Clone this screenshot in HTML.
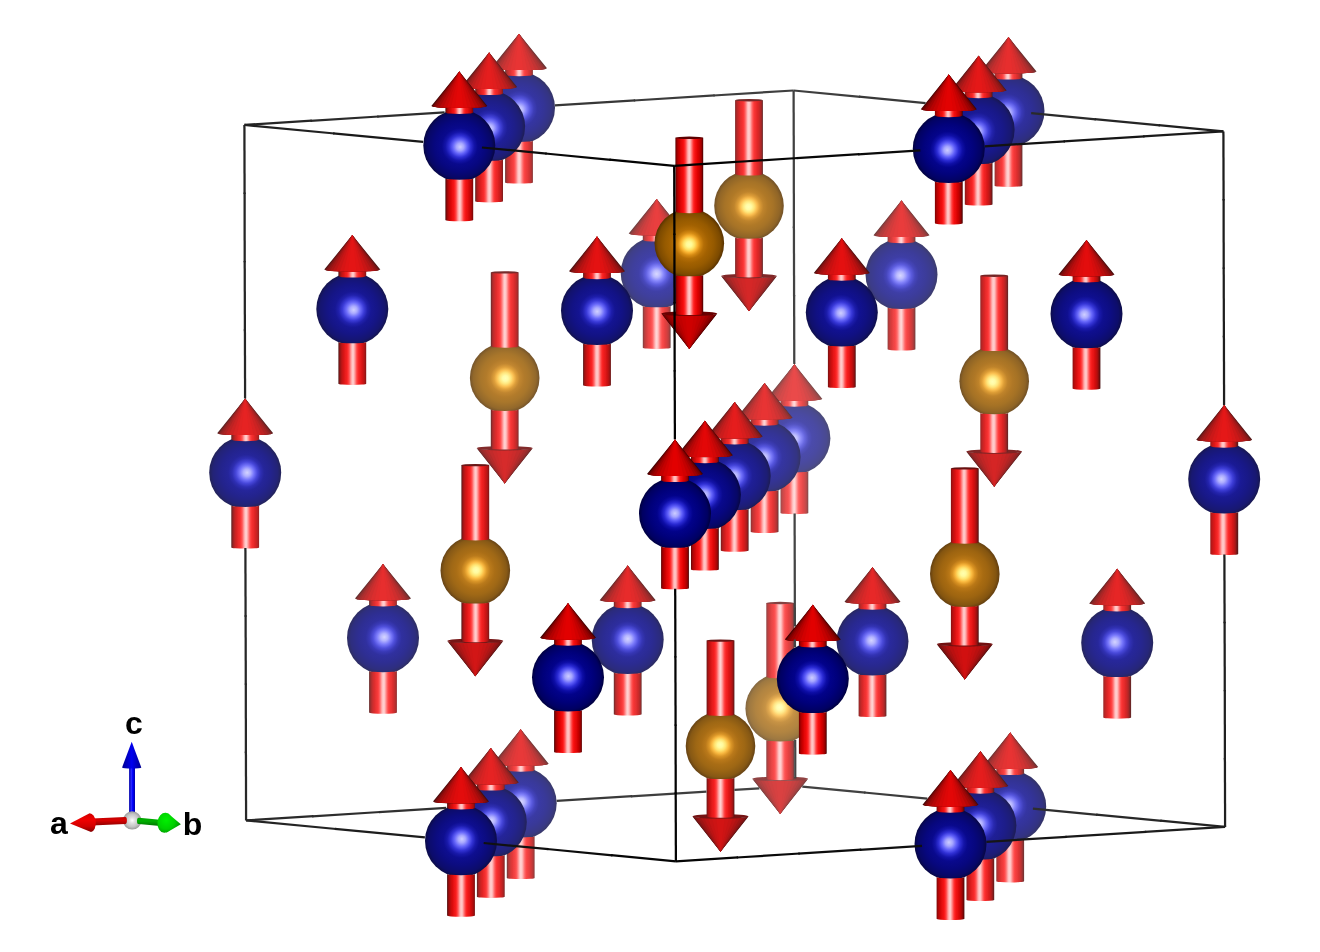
<!DOCTYPE html>
<html><head><meta charset="utf-8"><title>Crystal structure</title>
<style>html,body{margin:0;padding:0;background:#fff}#w{width:1320px;height:952px;will-change:transform}svg{display:block}text{font-family:"Liberation Sans",sans-serif;font-weight:bold;fill:#000}</style>
</head><body>
<div id="w">
<svg width="1320" height="952" viewBox="0 0 1320 952">
<defs><linearGradient id="l0" gradientUnits="userSpaceOnUse" x1="780.5" y1="0" x2="808.3" y2="0"><stop offset="0.00" stop-color="#924a4a"/><stop offset="0.05" stop-color="#b94a4a"/><stop offset="0.10" stop-color="#cf4a4a"/><stop offset="0.15" stop-color="#de4a4a"/><stop offset="0.20" stop-color="#ea5050"/><stop offset="0.25" stop-color="#f35151"/><stop offset="0.30" stop-color="#fc5a5a"/><stop offset="0.35" stop-color="#ff7373"/><stop offset="0.40" stop-color="#ff9f9f"/><stop offset="0.45" stop-color="#ffcccc"/><stop offset="0.50" stop-color="#ffd9d9"/><stop offset="0.55" stop-color="#ffbbbb"/><stop offset="0.60" stop-color="#ff8b8b"/><stop offset="0.65" stop-color="#ff6565"/><stop offset="0.70" stop-color="#f85555"/><stop offset="0.75" stop-color="#f05050"/><stop offset="0.80" stop-color="#e54a4a"/><stop offset="0.85" stop-color="#d84a4a"/><stop offset="0.90" stop-color="#c74a4a"/><stop offset="0.95" stop-color="#ad4a4a"/><stop offset="1.00" stop-color="#754a4a"/></linearGradient><radialGradient id="s0" gradientUnits="userSpaceOnUse" cx="794.4" cy="438.2" fx="793.7" fy="438.5" r="36.0"><stop offset="0.00" stop-color="#dcdcff"/><stop offset="0.10" stop-color="#bfbfff"/><stop offset="0.20" stop-color="#8d8dfb"/><stop offset="0.30" stop-color="#6868e0"/><stop offset="0.40" stop-color="#5353c0"/><stop offset="0.50" stop-color="#4b4bac"/><stop offset="0.70" stop-color="#4a4aa1"/><stop offset="0.90" stop-color="#4a4a90"/><stop offset="1.00" stop-color="#4a4a76"/></radialGradient><linearGradient id="l1" gradientUnits="userSpaceOnUse" x1="766.3" y1="0" x2="794.1" y2="0"><stop offset="0.00" stop-color="#8b4141"/><stop offset="0.05" stop-color="#b54141"/><stop offset="0.10" stop-color="#cc4141"/><stop offset="0.15" stop-color="#dc4141"/><stop offset="0.20" stop-color="#e94747"/><stop offset="0.25" stop-color="#f34848"/><stop offset="0.30" stop-color="#fc5151"/><stop offset="0.35" stop-color="#ff6b6b"/><stop offset="0.40" stop-color="#ff9a9a"/><stop offset="0.45" stop-color="#ffc9c9"/><stop offset="0.50" stop-color="#ffd7d7"/><stop offset="0.55" stop-color="#ffb9b9"/><stop offset="0.60" stop-color="#ff8686"/><stop offset="0.65" stop-color="#ff5e5e"/><stop offset="0.70" stop-color="#f84c4c"/><stop offset="0.75" stop-color="#ef4747"/><stop offset="0.80" stop-color="#e44141"/><stop offset="0.85" stop-color="#d74141"/><stop offset="0.90" stop-color="#c44141"/><stop offset="0.95" stop-color="#a94141"/><stop offset="1.00" stop-color="#6d4141"/></linearGradient><radialGradient id="s1" gradientUnits="userSpaceOnUse" cx="780.2" cy="708.5" fx="779.5" fy="707.3" r="34.8"><stop offset="0.00" stop-color="#ffffc0"/><stop offset="0.08" stop-color="#fffbb1"/><stop offset="0.16" stop-color="#ffe98b"/><stop offset="0.24" stop-color="#fbc766"/><stop offset="0.32" stop-color="#e1a950"/><stop offset="0.42" stop-color="#c79345"/><stop offset="0.55" stop-color="#ba8941"/><stop offset="0.70" stop-color="#b18441"/><stop offset="0.90" stop-color="#9d7841"/><stop offset="1.00" stop-color="#826641"/></radialGradient><linearGradient id="l2" gradientUnits="userSpaceOnUse" x1="642.8" y1="0" x2="670.6" y2="0"><stop offset="0.00" stop-color="#773f3f"/><stop offset="0.05" stop-color="#af3f3f"/><stop offset="0.10" stop-color="#c83f3f"/><stop offset="0.15" stop-color="#da3f3f"/><stop offset="0.20" stop-color="#e74545"/><stop offset="0.25" stop-color="#f14646"/><stop offset="0.30" stop-color="#fa4d4d"/><stop offset="0.35" stop-color="#ff6363"/><stop offset="0.40" stop-color="#ff9090"/><stop offset="0.45" stop-color="#ffc2c2"/><stop offset="0.50" stop-color="#ffd8d8"/><stop offset="0.55" stop-color="#ffc0c0"/><stop offset="0.60" stop-color="#ff8d8d"/><stop offset="0.65" stop-color="#ff6262"/><stop offset="0.70" stop-color="#fa4c4c"/><stop offset="0.75" stop-color="#f14646"/><stop offset="0.80" stop-color="#e63f3f"/><stop offset="0.85" stop-color="#d93f3f"/><stop offset="0.90" stop-color="#c73f3f"/><stop offset="0.95" stop-color="#ae3f3f"/><stop offset="1.00" stop-color="#6c3f3f"/></linearGradient><radialGradient id="s2" gradientUnits="userSpaceOnUse" cx="656.7" cy="273.0" fx="656.6" fy="274.0" r="36.0"><stop offset="0.00" stop-color="#d9d9ff"/><stop offset="0.10" stop-color="#bbbbff"/><stop offset="0.20" stop-color="#8686fb"/><stop offset="0.30" stop-color="#5f5fdf"/><stop offset="0.40" stop-color="#4949bc"/><stop offset="0.50" stop-color="#4040a7"/><stop offset="0.70" stop-color="#3f3f9b"/><stop offset="0.90" stop-color="#3f3f89"/><stop offset="1.00" stop-color="#3f3f6e"/></radialGradient><linearGradient id="l3" gradientUnits="userSpaceOnUse" x1="887.6" y1="0" x2="915.4" y2="0"><stop offset="0.00" stop-color="#933c3c"/><stop offset="0.05" stop-color="#b83c3c"/><stop offset="0.10" stop-color="#ce3c3c"/><stop offset="0.15" stop-color="#de3c3c"/><stop offset="0.20" stop-color="#ea4343"/><stop offset="0.25" stop-color="#f44545"/><stop offset="0.30" stop-color="#fd5050"/><stop offset="0.35" stop-color="#ff6e6e"/><stop offset="0.40" stop-color="#ffa0a0"/><stop offset="0.45" stop-color="#ffcdcd"/><stop offset="0.50" stop-color="#ffd4d4"/><stop offset="0.55" stop-color="#ffafaf"/><stop offset="0.60" stop-color="#ff7a7a"/><stop offset="0.65" stop-color="#ff5656"/><stop offset="0.70" stop-color="#f64646"/><stop offset="0.75" stop-color="#ed4343"/><stop offset="0.80" stop-color="#e23c3c"/><stop offset="0.85" stop-color="#d33c3c"/><stop offset="0.90" stop-color="#bf3c3c"/><stop offset="0.95" stop-color="#a03c3c"/><stop offset="1.00" stop-color="#6a3c3c"/></linearGradient><radialGradient id="s3" gradientUnits="userSpaceOnUse" cx="901.5" cy="274.6" fx="900.2" fy="275.6" r="36.0"><stop offset="0.00" stop-color="#d9d9ff"/><stop offset="0.10" stop-color="#babaff"/><stop offset="0.20" stop-color="#8585fb"/><stop offset="0.30" stop-color="#5c5cde"/><stop offset="0.40" stop-color="#4646bb"/><stop offset="0.50" stop-color="#3e3ea6"/><stop offset="0.70" stop-color="#3c3c99"/><stop offset="0.90" stop-color="#3c3c87"/><stop offset="1.00" stop-color="#3c3c6c"/></radialGradient><linearGradient id="l4" gradientUnits="userSpaceOnUse" x1="506.8" y1="0" x2="534.6" y2="0"><stop offset="0.00" stop-color="#683939"/><stop offset="0.05" stop-color="#a73939"/><stop offset="0.10" stop-color="#c33939"/><stop offset="0.15" stop-color="#d63939"/><stop offset="0.20" stop-color="#e43939"/><stop offset="0.25" stop-color="#ef4040"/><stop offset="0.30" stop-color="#f84545"/><stop offset="0.35" stop-color="#ff5858"/><stop offset="0.40" stop-color="#ff8282"/><stop offset="0.45" stop-color="#ffb7b7"/><stop offset="0.50" stop-color="#ffd6d6"/><stop offset="0.55" stop-color="#ffc6c6"/><stop offset="0.60" stop-color="#ff9494"/><stop offset="0.65" stop-color="#ff6464"/><stop offset="0.70" stop-color="#fb4949"/><stop offset="0.75" stop-color="#f24141"/><stop offset="0.80" stop-color="#e83f3f"/><stop offset="0.85" stop-color="#db3939"/><stop offset="0.90" stop-color="#ca3939"/><stop offset="0.95" stop-color="#b13939"/><stop offset="1.00" stop-color="#843939"/></linearGradient><radialGradient id="s4" gradientUnits="userSpaceOnUse" cx="520.7" cy="803.2" fx="521.3" fy="801.6" r="36.0"><stop offset="0.00" stop-color="#d8d8ff"/><stop offset="0.10" stop-color="#b9b9ff"/><stop offset="0.20" stop-color="#8383fb"/><stop offset="0.30" stop-color="#5a5ade"/><stop offset="0.40" stop-color="#4343ba"/><stop offset="0.50" stop-color="#3a3aa4"/><stop offset="0.70" stop-color="#393998"/><stop offset="0.90" stop-color="#393985"/><stop offset="1.00" stop-color="#393969"/></radialGradient><linearGradient id="l5" gradientUnits="userSpaceOnUse" x1="505.1" y1="0" x2="532.9" y2="0"><stop offset="0.00" stop-color="#643434"/><stop offset="0.05" stop-color="#a43434"/><stop offset="0.10" stop-color="#c13434"/><stop offset="0.15" stop-color="#d43434"/><stop offset="0.20" stop-color="#e33434"/><stop offset="0.25" stop-color="#ee3b3b"/><stop offset="0.30" stop-color="#f84040"/><stop offset="0.35" stop-color="#ff5454"/><stop offset="0.40" stop-color="#ff7f7f"/><stop offset="0.45" stop-color="#ffb5b5"/><stop offset="0.50" stop-color="#ffd5d5"/><stop offset="0.55" stop-color="#ffc4c4"/><stop offset="0.60" stop-color="#ff9191"/><stop offset="0.65" stop-color="#ff6060"/><stop offset="0.70" stop-color="#fb4545"/><stop offset="0.75" stop-color="#f23c3c"/><stop offset="0.80" stop-color="#e73a3a"/><stop offset="0.85" stop-color="#da3434"/><stop offset="0.90" stop-color="#c83434"/><stop offset="0.95" stop-color="#af3434"/><stop offset="1.00" stop-color="#813434"/></linearGradient><radialGradient id="s5" gradientUnits="userSpaceOnUse" cx="519.0" cy="107.7" fx="519.6" fy="109.6" r="36.0"><stop offset="0.00" stop-color="#d7d7ff"/><stop offset="0.10" stop-color="#b7b7ff"/><stop offset="0.20" stop-color="#8080fb"/><stop offset="0.30" stop-color="#5555dd"/><stop offset="0.40" stop-color="#3e3eb8"/><stop offset="0.50" stop-color="#3535a2"/><stop offset="0.70" stop-color="#343495"/><stop offset="0.90" stop-color="#343482"/><stop offset="1.00" stop-color="#343465"/></radialGradient><linearGradient id="l6" gradientUnits="userSpaceOnUse" x1="750.7" y1="0" x2="778.5" y2="0"><stop offset="0.00" stop-color="#813434"/><stop offset="0.05" stop-color="#b03434"/><stop offset="0.10" stop-color="#c83434"/><stop offset="0.15" stop-color="#da3434"/><stop offset="0.20" stop-color="#e73a3a"/><stop offset="0.25" stop-color="#f23c3c"/><stop offset="0.30" stop-color="#fb4545"/><stop offset="0.35" stop-color="#ff6060"/><stop offset="0.40" stop-color="#ff9191"/><stop offset="0.45" stop-color="#ffc4c4"/><stop offset="0.50" stop-color="#ffd5d5"/><stop offset="0.55" stop-color="#ffb5b5"/><stop offset="0.60" stop-color="#ff7e7e"/><stop offset="0.65" stop-color="#ff5454"/><stop offset="0.70" stop-color="#f84040"/><stop offset="0.75" stop-color="#ee3b3b"/><stop offset="0.80" stop-color="#e33434"/><stop offset="0.85" stop-color="#d43434"/><stop offset="0.90" stop-color="#c13434"/><stop offset="0.95" stop-color="#a43434"/><stop offset="1.00" stop-color="#643434"/></linearGradient><radialGradient id="s6" gradientUnits="userSpaceOnUse" cx="764.6" cy="457.1" fx="764.0" fy="457.2" r="36.0"><stop offset="0.00" stop-color="#d7d7ff"/><stop offset="0.10" stop-color="#b7b7ff"/><stop offset="0.20" stop-color="#7f7ffb"/><stop offset="0.30" stop-color="#5555dd"/><stop offset="0.40" stop-color="#3e3eb8"/><stop offset="0.50" stop-color="#3535a2"/><stop offset="0.70" stop-color="#343495"/><stop offset="0.90" stop-color="#343482"/><stop offset="1.00" stop-color="#343465"/></radialGradient><linearGradient id="l7" gradientUnits="userSpaceOnUse" x1="996.3" y1="0" x2="1024.1" y2="0"><stop offset="0.00" stop-color="#973333"/><stop offset="0.05" stop-color="#b93333"/><stop offset="0.10" stop-color="#cf3333"/><stop offset="0.15" stop-color="#df3333"/><stop offset="0.20" stop-color="#eb3a3a"/><stop offset="0.25" stop-color="#f53d3d"/><stop offset="0.30" stop-color="#ff4b4b"/><stop offset="0.35" stop-color="#ff6e6e"/><stop offset="0.40" stop-color="#ffa4a4"/><stop offset="0.45" stop-color="#ffcfcf"/><stop offset="0.50" stop-color="#ffcfcf"/><stop offset="0.55" stop-color="#ffa3a3"/><stop offset="0.60" stop-color="#ff6d6d"/><stop offset="0.65" stop-color="#fe4a4a"/><stop offset="0.70" stop-color="#f53d3d"/><stop offset="0.75" stop-color="#eb3a3a"/><stop offset="0.80" stop-color="#de3333"/><stop offset="0.85" stop-color="#ce3333"/><stop offset="0.90" stop-color="#b83333"/><stop offset="0.95" stop-color="#953333"/><stop offset="1.00" stop-color="#633333"/></linearGradient><radialGradient id="s7" gradientUnits="userSpaceOnUse" cx="1010.2" cy="806.5" fx="1008.3" fy="804.8" r="36.0"><stop offset="0.00" stop-color="#d7d7ff"/><stop offset="0.10" stop-color="#b7b7ff"/><stop offset="0.20" stop-color="#7f7ffb"/><stop offset="0.30" stop-color="#5555dd"/><stop offset="0.40" stop-color="#3e3eb8"/><stop offset="0.50" stop-color="#3535a2"/><stop offset="0.70" stop-color="#333395"/><stop offset="0.90" stop-color="#333382"/><stop offset="1.00" stop-color="#333365"/></radialGradient><linearGradient id="l8" gradientUnits="userSpaceOnUse" x1="994.6" y1="0" x2="1022.4" y2="0"><stop offset="0.00" stop-color="#942e2e"/><stop offset="0.05" stop-color="#b72e2e"/><stop offset="0.10" stop-color="#ce2e2e"/><stop offset="0.15" stop-color="#de2e2e"/><stop offset="0.20" stop-color="#ea3535"/><stop offset="0.25" stop-color="#f53838"/><stop offset="0.30" stop-color="#ff4747"/><stop offset="0.35" stop-color="#ff6b6b"/><stop offset="0.40" stop-color="#ffa2a2"/><stop offset="0.45" stop-color="#ffcece"/><stop offset="0.50" stop-color="#ffcece"/><stop offset="0.55" stop-color="#ffa1a1"/><stop offset="0.60" stop-color="#ff6a6a"/><stop offset="0.65" stop-color="#fe4646"/><stop offset="0.70" stop-color="#f43838"/><stop offset="0.75" stop-color="#ea3535"/><stop offset="0.80" stop-color="#de2e2e"/><stop offset="0.85" stop-color="#cd2e2e"/><stop offset="0.90" stop-color="#b72e2e"/><stop offset="0.95" stop-color="#932e2e"/><stop offset="1.00" stop-color="#5f2e2e"/></linearGradient><radialGradient id="s8" gradientUnits="userSpaceOnUse" cx="1008.5" cy="111.0" fx="1006.7" fy="112.8" r="36.0"><stop offset="0.00" stop-color="#d6d6ff"/><stop offset="0.10" stop-color="#b5b5ff"/><stop offset="0.20" stop-color="#7c7cfb"/><stop offset="0.30" stop-color="#5151dc"/><stop offset="0.40" stop-color="#3939b6"/><stop offset="0.50" stop-color="#30309f"/><stop offset="0.70" stop-color="#2e2e92"/><stop offset="0.90" stop-color="#2e2e7f"/><stop offset="1.00" stop-color="#2e2e61"/></radialGradient><linearGradient id="l9" gradientUnits="userSpaceOnUse" x1="369.1" y1="0" x2="396.9" y2="0"><stop offset="0.00" stop-color="#5f2e2e"/><stop offset="0.05" stop-color="#9a2e2e"/><stop offset="0.10" stop-color="#bb2e2e"/><stop offset="0.15" stop-color="#d02e2e"/><stop offset="0.20" stop-color="#e02e2e"/><stop offset="0.25" stop-color="#ec3535"/><stop offset="0.30" stop-color="#f63939"/><stop offset="0.35" stop-color="#ff4949"/><stop offset="0.40" stop-color="#ff7171"/><stop offset="0.45" stop-color="#ffa9a9"/><stop offset="0.50" stop-color="#ffd1d1"/><stop offset="0.55" stop-color="#ffc9c9"/><stop offset="0.60" stop-color="#ff9999"/><stop offset="0.65" stop-color="#ff6363"/><stop offset="0.70" stop-color="#fd4343"/><stop offset="0.75" stop-color="#f33737"/><stop offset="0.80" stop-color="#e93535"/><stop offset="0.85" stop-color="#dc2e2e"/><stop offset="0.90" stop-color="#ca2e2e"/><stop offset="0.95" stop-color="#b32e2e"/><stop offset="1.00" stop-color="#8b2e2e"/></linearGradient><radialGradient id="s9" gradientUnits="userSpaceOnUse" cx="383.0" cy="637.9" fx="384.3" fy="637.1" r="36.0"><stop offset="0.00" stop-color="#d6d6ff"/><stop offset="0.10" stop-color="#b5b5ff"/><stop offset="0.20" stop-color="#7c7cfb"/><stop offset="0.30" stop-color="#5050dc"/><stop offset="0.40" stop-color="#3939b6"/><stop offset="0.50" stop-color="#30309f"/><stop offset="0.70" stop-color="#2e2e92"/><stop offset="0.90" stop-color="#2e2e7e"/><stop offset="1.00" stop-color="#2e2e61"/></radialGradient><linearGradient id="l10" gradientUnits="userSpaceOnUse" x1="613.8" y1="0" x2="641.6" y2="0"><stop offset="0.00" stop-color="#5d2b2b"/><stop offset="0.05" stop-color="#a62b2b"/><stop offset="0.10" stop-color="#c22b2b"/><stop offset="0.15" stop-color="#d52b2b"/><stop offset="0.20" stop-color="#e42b2b"/><stop offset="0.25" stop-color="#ef3333"/><stop offset="0.30" stop-color="#f93a3a"/><stop offset="0.35" stop-color="#ff5252"/><stop offset="0.40" stop-color="#ff8282"/><stop offset="0.45" stop-color="#ffbaba"/><stop offset="0.50" stop-color="#ffd4d4"/><stop offset="0.55" stop-color="#ffbbbb"/><stop offset="0.60" stop-color="#ff8484"/><stop offset="0.65" stop-color="#ff5353"/><stop offset="0.70" stop-color="#f93a3a"/><stop offset="0.75" stop-color="#ef3333"/><stop offset="0.80" stop-color="#e43232"/><stop offset="0.85" stop-color="#d62b2b"/><stop offset="0.90" stop-color="#c32b2b"/><stop offset="0.95" stop-color="#a72b2b"/><stop offset="1.00" stop-color="#672b2b"/></linearGradient><radialGradient id="s10" gradientUnits="userSpaceOnUse" cx="627.7" cy="639.6" fx="627.8" fy="638.8" r="36.0"><stop offset="0.00" stop-color="#d5d5ff"/><stop offset="0.10" stop-color="#b4b4ff"/><stop offset="0.20" stop-color="#7a7afb"/><stop offset="0.30" stop-color="#4e4edb"/><stop offset="0.40" stop-color="#3636b5"/><stop offset="0.50" stop-color="#2d2d9e"/><stop offset="0.70" stop-color="#2b2b91"/><stop offset="0.90" stop-color="#2b2b7d"/><stop offset="1.00" stop-color="#2b2b5f"/></radialGradient><linearGradient id="l11" gradientUnits="userSpaceOnUse" x1="490.8" y1="0" x2="518.6" y2="0"><stop offset="0.00" stop-color="#5d2b2b"/><stop offset="0.05" stop-color="#9f2b2b"/><stop offset="0.10" stop-color="#be2b2b"/><stop offset="0.15" stop-color="#d22b2b"/><stop offset="0.20" stop-color="#e12b2b"/><stop offset="0.25" stop-color="#ed3232"/><stop offset="0.30" stop-color="#f73737"/><stop offset="0.35" stop-color="#ff4c4c"/><stop offset="0.40" stop-color="#ff7878"/><stop offset="0.45" stop-color="#ffb1b1"/><stop offset="0.50" stop-color="#ffd3d3"/><stop offset="0.55" stop-color="#ffc2c2"/><stop offset="0.60" stop-color="#ff8d8d"/><stop offset="0.65" stop-color="#ff5959"/><stop offset="0.70" stop-color="#fb3d3d"/><stop offset="0.75" stop-color="#f13333"/><stop offset="0.80" stop-color="#e63131"/><stop offset="0.85" stop-color="#d82b2b"/><stop offset="0.90" stop-color="#c62b2b"/><stop offset="0.95" stop-color="#ad2b2b"/><stop offset="1.00" stop-color="#7d2b2b"/></linearGradient><radialGradient id="s11" gradientUnits="userSpaceOnUse" cx="504.7" cy="377.9" fx="505.4" fy="378.4" r="34.8"><stop offset="0.00" stop-color="#ffffb8"/><stop offset="0.08" stop-color="#fffba8"/><stop offset="0.16" stop-color="#ffe67e"/><stop offset="0.24" stop-color="#fbc154"/><stop offset="0.32" stop-color="#de9f3b"/><stop offset="0.42" stop-color="#c18630"/><stop offset="0.55" stop-color="#b27b2b"/><stop offset="0.70" stop-color="#a8762b"/><stop offset="0.90" stop-color="#92682b"/><stop offset="1.00" stop-color="#74542b"/></radialGradient><linearGradient id="l12" gradientUnits="userSpaceOnUse" x1="858.6" y1="0" x2="886.4" y2="0"><stop offset="0.00" stop-color="#862828"/><stop offset="0.05" stop-color="#b02828"/><stop offset="0.10" stop-color="#c82828"/><stop offset="0.15" stop-color="#da2828"/><stop offset="0.20" stop-color="#e82f2f"/><stop offset="0.25" stop-color="#f23232"/><stop offset="0.30" stop-color="#fd3d3d"/><stop offset="0.35" stop-color="#ff5d5d"/><stop offset="0.40" stop-color="#ff9494"/><stop offset="0.45" stop-color="#ffc7c7"/><stop offset="0.50" stop-color="#ffd0d0"/><stop offset="0.55" stop-color="#ffa9a9"/><stop offset="0.60" stop-color="#ff6f6f"/><stop offset="0.65" stop-color="#ff4646"/><stop offset="0.70" stop-color="#f63434"/><stop offset="0.75" stop-color="#ec3030"/><stop offset="0.80" stop-color="#df2828"/><stop offset="0.85" stop-color="#cf2828"/><stop offset="0.90" stop-color="#ba2828"/><stop offset="0.95" stop-color="#992828"/><stop offset="1.00" stop-color="#5b2828"/></linearGradient><radialGradient id="s12" gradientUnits="userSpaceOnUse" cx="872.5" cy="641.2" fx="871.3" fy="640.4" r="36.0"><stop offset="0.00" stop-color="#d5d5ff"/><stop offset="0.10" stop-color="#b3b3ff"/><stop offset="0.20" stop-color="#7878fb"/><stop offset="0.30" stop-color="#4c4cdb"/><stop offset="0.40" stop-color="#3333b4"/><stop offset="0.50" stop-color="#2a2a9d"/><stop offset="0.70" stop-color="#28288f"/><stop offset="0.90" stop-color="#28287b"/><stop offset="1.00" stop-color="#28285d"/></radialGradient><linearGradient id="l13" gradientUnits="userSpaceOnUse" x1="735.1" y1="0" x2="762.9" y2="0"><stop offset="0.00" stop-color="#772727"/><stop offset="0.05" stop-color="#aa2727"/><stop offset="0.10" stop-color="#c42727"/><stop offset="0.15" stop-color="#d72727"/><stop offset="0.20" stop-color="#e52e2e"/><stop offset="0.25" stop-color="#f12f2f"/><stop offset="0.30" stop-color="#fb3838"/><stop offset="0.35" stop-color="#ff5555"/><stop offset="0.40" stop-color="#ff8989"/><stop offset="0.45" stop-color="#ffc0c0"/><stop offset="0.50" stop-color="#ffd2d2"/><stop offset="0.55" stop-color="#ffb1b1"/><stop offset="0.60" stop-color="#ff7777"/><stop offset="0.65" stop-color="#ff4949"/><stop offset="0.70" stop-color="#f83434"/><stop offset="0.75" stop-color="#ed2e2e"/><stop offset="0.80" stop-color="#e12727"/><stop offset="0.85" stop-color="#d22727"/><stop offset="0.90" stop-color="#bd2727"/><stop offset="0.95" stop-color="#9f2727"/><stop offset="1.00" stop-color="#5a2727"/></linearGradient><radialGradient id="s13" gradientUnits="userSpaceOnUse" cx="749.0" cy="205.7" fx="748.5" fy="207.0" r="34.8"><stop offset="0.00" stop-color="#ffffb7"/><stop offset="0.08" stop-color="#fffba6"/><stop offset="0.16" stop-color="#ffe67b"/><stop offset="0.24" stop-color="#fbbf51"/><stop offset="0.32" stop-color="#dd9d38"/><stop offset="0.42" stop-color="#bf842c"/><stop offset="0.55" stop-color="#b07927"/><stop offset="0.70" stop-color="#a67327"/><stop offset="0.90" stop-color="#906527"/><stop offset="1.00" stop-color="#715127"/></radialGradient><linearGradient id="l14" gradientUnits="userSpaceOnUse" x1="1103.3" y1="0" x2="1131.1" y2="0"><stop offset="0.00" stop-color="#972626"/><stop offset="0.05" stop-color="#b82626"/><stop offset="0.10" stop-color="#ce2626"/><stop offset="0.15" stop-color="#df2626"/><stop offset="0.20" stop-color="#eb2d2d"/><stop offset="0.25" stop-color="#f63131"/><stop offset="0.30" stop-color="#ff4343"/><stop offset="0.35" stop-color="#ff6c6c"/><stop offset="0.40" stop-color="#ffa7a7"/><stop offset="0.45" stop-color="#ffd0d0"/><stop offset="0.50" stop-color="#ffc7c7"/><stop offset="0.55" stop-color="#ff9494"/><stop offset="0.60" stop-color="#ff5c5c"/><stop offset="0.65" stop-color="#fd3b3b"/><stop offset="0.70" stop-color="#f22f2f"/><stop offset="0.75" stop-color="#e72d2d"/><stop offset="0.80" stop-color="#da2626"/><stop offset="0.85" stop-color="#c82626"/><stop offset="0.90" stop-color="#af2626"/><stop offset="0.95" stop-color="#852626"/><stop offset="1.00" stop-color="#592626"/></linearGradient><radialGradient id="s14" gradientUnits="userSpaceOnUse" cx="1117.2" cy="642.8" fx="1114.8" fy="642.0" r="36.0"><stop offset="0.00" stop-color="#d4d4ff"/><stop offset="0.10" stop-color="#b2b2ff"/><stop offset="0.20" stop-color="#7777fb"/><stop offset="0.30" stop-color="#4949da"/><stop offset="0.40" stop-color="#3131b3"/><stop offset="0.50" stop-color="#27279b"/><stop offset="0.70" stop-color="#26268e"/><stop offset="0.90" stop-color="#262679"/><stop offset="1.00" stop-color="#26265b"/></radialGradient><linearGradient id="l15" gradientUnits="userSpaceOnUse" x1="980.3" y1="0" x2="1008.1" y2="0"><stop offset="0.00" stop-color="#8e2525"/><stop offset="0.05" stop-color="#b42525"/><stop offset="0.10" stop-color="#cb2525"/><stop offset="0.15" stop-color="#dc2525"/><stop offset="0.20" stop-color="#e92c2c"/><stop offset="0.25" stop-color="#f42f2f"/><stop offset="0.30" stop-color="#fe3e3e"/><stop offset="0.35" stop-color="#ff6363"/><stop offset="0.40" stop-color="#ff9d9d"/><stop offset="0.45" stop-color="#ffcbcb"/><stop offset="0.50" stop-color="#ffcccc"/><stop offset="0.55" stop-color="#ff9e9e"/><stop offset="0.60" stop-color="#ff6464"/><stop offset="0.65" stop-color="#ff3e3e"/><stop offset="0.70" stop-color="#f43030"/><stop offset="0.75" stop-color="#e92c2c"/><stop offset="0.80" stop-color="#dc2525"/><stop offset="0.85" stop-color="#cb2525"/><stop offset="0.90" stop-color="#b42525"/><stop offset="0.95" stop-color="#8f2525"/><stop offset="1.00" stop-color="#582525"/></linearGradient><radialGradient id="s15" gradientUnits="userSpaceOnUse" cx="994.2" cy="381.2" fx="992.4" fy="381.7" r="34.8"><stop offset="0.00" stop-color="#ffffb6"/><stop offset="0.08" stop-color="#fffba5"/><stop offset="0.16" stop-color="#ffe57b"/><stop offset="0.24" stop-color="#fbbf50"/><stop offset="0.32" stop-color="#dd9d36"/><stop offset="0.42" stop-color="#bf832a"/><stop offset="0.55" stop-color="#b07826"/><stop offset="0.70" stop-color="#a57225"/><stop offset="0.90" stop-color="#8f6425"/><stop offset="1.00" stop-color="#705025"/></radialGradient><linearGradient id="l16" gradientUnits="userSpaceOnUse" x1="231.3" y1="0" x2="259.1" y2="0"><stop offset="0.00" stop-color="#572323"/><stop offset="0.05" stop-color="#8b2323"/><stop offset="0.10" stop-color="#b22323"/><stop offset="0.15" stop-color="#ca2323"/><stop offset="0.20" stop-color="#db2323"/><stop offset="0.25" stop-color="#e92a2a"/><stop offset="0.30" stop-color="#f32d2d"/><stop offset="0.35" stop-color="#fe3b3b"/><stop offset="0.40" stop-color="#ff5f5f"/><stop offset="0.45" stop-color="#ff9999"/><stop offset="0.50" stop-color="#ffcaca"/><stop offset="0.55" stop-color="#ffcccc"/><stop offset="0.60" stop-color="#ff9f9f"/><stop offset="0.65" stop-color="#ff6464"/><stop offset="0.70" stop-color="#ff3d3d"/><stop offset="0.75" stop-color="#f42e2e"/><stop offset="0.80" stop-color="#ea2a2a"/><stop offset="0.85" stop-color="#dd2323"/><stop offset="0.90" stop-color="#cc2323"/><stop offset="0.95" stop-color="#b42323"/><stop offset="1.00" stop-color="#902323"/></linearGradient><radialGradient id="s16" gradientUnits="userSpaceOnUse" cx="245.2" cy="472.6" fx="247.2" fy="472.7" r="36.0"><stop offset="0.00" stop-color="#d4d4ff"/><stop offset="0.10" stop-color="#b1b1ff"/><stop offset="0.20" stop-color="#7575fb"/><stop offset="0.30" stop-color="#4747da"/><stop offset="0.40" stop-color="#2e2eb2"/><stop offset="0.50" stop-color="#25259a"/><stop offset="0.70" stop-color="#23238c"/><stop offset="0.90" stop-color="#232377"/><stop offset="1.00" stop-color="#232358"/></radialGradient><linearGradient id="l17" gradientUnits="userSpaceOnUse" x1="476.9" y1="0" x2="504.7" y2="0"><stop offset="0.00" stop-color="#562323"/><stop offset="0.05" stop-color="#9b2323"/><stop offset="0.10" stop-color="#bb2323"/><stop offset="0.15" stop-color="#d02323"/><stop offset="0.20" stop-color="#e02323"/><stop offset="0.25" stop-color="#ec2a2a"/><stop offset="0.30" stop-color="#f73030"/><stop offset="0.35" stop-color="#ff4444"/><stop offset="0.40" stop-color="#ff7272"/><stop offset="0.45" stop-color="#ffadad"/><stop offset="0.50" stop-color="#ffd1d1"/><stop offset="0.55" stop-color="#ffc1c1"/><stop offset="0.60" stop-color="#ff8a8a"/><stop offset="0.65" stop-color="#ff5454"/><stop offset="0.70" stop-color="#fb3636"/><stop offset="0.75" stop-color="#f12c2c"/><stop offset="0.80" stop-color="#e62a2a"/><stop offset="0.85" stop-color="#d72323"/><stop offset="0.90" stop-color="#c42323"/><stop offset="0.95" stop-color="#aa2323"/><stop offset="1.00" stop-color="#7a2323"/></linearGradient><radialGradient id="s17" gradientUnits="userSpaceOnUse" cx="490.8" cy="822.0" fx="491.6" fy="820.3" r="36.0"><stop offset="0.00" stop-color="#d4d4ff"/><stop offset="0.10" stop-color="#b1b1ff"/><stop offset="0.20" stop-color="#7575fb"/><stop offset="0.30" stop-color="#4747da"/><stop offset="0.40" stop-color="#2e2eb2"/><stop offset="0.50" stop-color="#24249a"/><stop offset="0.70" stop-color="#23238c"/><stop offset="0.90" stop-color="#232377"/><stop offset="1.00" stop-color="#232358"/></radialGradient><linearGradient id="l18" gradientUnits="userSpaceOnUse" x1="475.2" y1="0" x2="503.0" y2="0"><stop offset="0.00" stop-color="#531e1e"/><stop offset="0.05" stop-color="#991e1e"/><stop offset="0.10" stop-color="#b91e1e"/><stop offset="0.15" stop-color="#cf1e1e"/><stop offset="0.20" stop-color="#df1e1e"/><stop offset="0.25" stop-color="#ec2525"/><stop offset="0.30" stop-color="#f72b2b"/><stop offset="0.35" stop-color="#ff4040"/><stop offset="0.40" stop-color="#ff6e6e"/><stop offset="0.45" stop-color="#ffabab"/><stop offset="0.50" stop-color="#ffd0d0"/><stop offset="0.55" stop-color="#ffc0c0"/><stop offset="0.60" stop-color="#ff8888"/><stop offset="0.65" stop-color="#ff5050"/><stop offset="0.70" stop-color="#fb3131"/><stop offset="0.75" stop-color="#f12727"/><stop offset="0.80" stop-color="#e52525"/><stop offset="0.85" stop-color="#d61e1e"/><stop offset="0.90" stop-color="#c31e1e"/><stop offset="0.95" stop-color="#a81e1e"/><stop offset="1.00" stop-color="#771e1e"/></linearGradient><radialGradient id="s18" gradientUnits="userSpaceOnUse" cx="489.1" cy="126.5" fx="489.9" fy="128.3" r="36.0"><stop offset="0.00" stop-color="#d3d3ff"/><stop offset="0.10" stop-color="#afafff"/><stop offset="0.20" stop-color="#7272fb"/><stop offset="0.30" stop-color="#4343d9"/><stop offset="0.40" stop-color="#2929b0"/><stop offset="0.50" stop-color="#1f1f98"/><stop offset="0.70" stop-color="#1e1e89"/><stop offset="0.90" stop-color="#1e1e74"/><stop offset="1.00" stop-color="#1e1e54"/></radialGradient><linearGradient id="l19" gradientUnits="userSpaceOnUse" x1="720.8" y1="0" x2="748.6" y2="0"><stop offset="0.00" stop-color="#6f1d1d"/><stop offset="0.05" stop-color="#a51d1d"/><stop offset="0.10" stop-color="#c11d1d"/><stop offset="0.15" stop-color="#d51d1d"/><stop offset="0.20" stop-color="#e42525"/><stop offset="0.25" stop-color="#f02626"/><stop offset="0.30" stop-color="#fa2f2f"/><stop offset="0.35" stop-color="#ff4d4d"/><stop offset="0.40" stop-color="#ff8383"/><stop offset="0.45" stop-color="#ffbcbc"/><stop offset="0.50" stop-color="#ffd0d0"/><stop offset="0.55" stop-color="#ffafaf"/><stop offset="0.60" stop-color="#ff7373"/><stop offset="0.65" stop-color="#ff4242"/><stop offset="0.70" stop-color="#f72c2c"/><stop offset="0.75" stop-color="#ed2525"/><stop offset="0.80" stop-color="#e01d1d"/><stop offset="0.85" stop-color="#d01d1d"/><stop offset="0.90" stop-color="#bb1d1d"/><stop offset="0.95" stop-color="#9c1d1d"/><stop offset="1.00" stop-color="#521d1d"/></linearGradient><radialGradient id="s19" gradientUnits="userSpaceOnUse" cx="734.7" cy="475.9" fx="734.3" fy="475.9" r="36.0"><stop offset="0.00" stop-color="#d3d3ff"/><stop offset="0.10" stop-color="#afafff"/><stop offset="0.20" stop-color="#7171fb"/><stop offset="0.30" stop-color="#4343d9"/><stop offset="0.40" stop-color="#2929b0"/><stop offset="0.50" stop-color="#1f1f97"/><stop offset="0.70" stop-color="#1d1d89"/><stop offset="0.90" stop-color="#1d1d74"/><stop offset="1.00" stop-color="#1d1d54"/></radialGradient><linearGradient id="l20" gradientUnits="userSpaceOnUse" x1="966.5" y1="0" x2="994.2" y2="0"><stop offset="0.00" stop-color="#891d1d"/><stop offset="0.05" stop-color="#b01d1d"/><stop offset="0.10" stop-color="#c91d1d"/><stop offset="0.15" stop-color="#db1d1d"/><stop offset="0.20" stop-color="#e82525"/><stop offset="0.25" stop-color="#f32828"/><stop offset="0.30" stop-color="#fe3636"/><stop offset="0.35" stop-color="#ff5c5c"/><stop offset="0.40" stop-color="#ff9898"/><stop offset="0.45" stop-color="#ffc9c9"/><stop offset="0.50" stop-color="#ffcbcb"/><stop offset="0.55" stop-color="#ff9b9b"/><stop offset="0.60" stop-color="#ff5f5f"/><stop offset="0.65" stop-color="#ff3838"/><stop offset="0.70" stop-color="#f42828"/><stop offset="0.75" stop-color="#e92525"/><stop offset="0.80" stop-color="#db1d1d"/><stop offset="0.85" stop-color="#ca1d1d"/><stop offset="0.90" stop-color="#b21d1d"/><stop offset="0.95" stop-color="#8c1d1d"/><stop offset="1.00" stop-color="#521d1d"/></linearGradient><radialGradient id="s20" gradientUnits="userSpaceOnUse" cx="980.4" cy="825.3" fx="978.6" fy="823.5" r="36.0"><stop offset="0.00" stop-color="#d3d3ff"/><stop offset="0.10" stop-color="#afafff"/><stop offset="0.20" stop-color="#7171fb"/><stop offset="0.30" stop-color="#4242d9"/><stop offset="0.40" stop-color="#2929b0"/><stop offset="0.50" stop-color="#1f1f97"/><stop offset="0.70" stop-color="#1d1d89"/><stop offset="0.90" stop-color="#1d1d74"/><stop offset="1.00" stop-color="#1d1d54"/></radialGradient><linearGradient id="l21" gradientUnits="userSpaceOnUse" x1="964.8" y1="0" x2="992.5" y2="0"><stop offset="0.00" stop-color="#861818"/><stop offset="0.05" stop-color="#ae1818"/><stop offset="0.10" stop-color="#c71818"/><stop offset="0.15" stop-color="#da1818"/><stop offset="0.20" stop-color="#e82020"/><stop offset="0.25" stop-color="#f32323"/><stop offset="0.30" stop-color="#fe3232"/><stop offset="0.35" stop-color="#ff5959"/><stop offset="0.40" stop-color="#ff9595"/><stop offset="0.45" stop-color="#ffc8c8"/><stop offset="0.50" stop-color="#ffc9c9"/><stop offset="0.55" stop-color="#ff9999"/><stop offset="0.60" stop-color="#ff5c5c"/><stop offset="0.65" stop-color="#ff3333"/><stop offset="0.70" stop-color="#f42323"/><stop offset="0.75" stop-color="#e82020"/><stop offset="0.80" stop-color="#db1818"/><stop offset="0.85" stop-color="#c91818"/><stop offset="0.90" stop-color="#b01818"/><stop offset="0.95" stop-color="#891818"/><stop offset="1.00" stop-color="#4e1818"/></linearGradient><radialGradient id="s21" gradientUnits="userSpaceOnUse" cx="978.6" cy="129.8" fx="977.0" fy="131.5" r="36.0"><stop offset="0.00" stop-color="#d2d2ff"/><stop offset="0.10" stop-color="#aeaeff"/><stop offset="0.20" stop-color="#6e6efa"/><stop offset="0.30" stop-color="#3e3ed8"/><stop offset="0.40" stop-color="#2424ae"/><stop offset="0.50" stop-color="#1a1a95"/><stop offset="0.70" stop-color="#181887"/><stop offset="0.90" stop-color="#181871"/><stop offset="1.00" stop-color="#181850"/></radialGradient><linearGradient id="l22" gradientUnits="userSpaceOnUse" x1="1210.3" y1="0" x2="1238.2" y2="0"><stop offset="0.00" stop-color="#971818"/><stop offset="0.05" stop-color="#b81818"/><stop offset="0.10" stop-color="#ce1818"/><stop offset="0.15" stop-color="#df1818"/><stop offset="0.20" stop-color="#ec2020"/><stop offset="0.25" stop-color="#f72626"/><stop offset="0.30" stop-color="#ff3c3c"/><stop offset="0.35" stop-color="#ff6c6c"/><stop offset="0.40" stop-color="#ffaaaa"/><stop offset="0.45" stop-color="#ffcfcf"/><stop offset="0.50" stop-color="#ffbdbd"/><stop offset="0.55" stop-color="#ff8383"/><stop offset="0.60" stop-color="#ff4b4b"/><stop offset="0.65" stop-color="#fb2b2b"/><stop offset="0.70" stop-color="#f02121"/><stop offset="0.75" stop-color="#e41f1f"/><stop offset="0.80" stop-color="#d51818"/><stop offset="0.85" stop-color="#c11818"/><stop offset="0.90" stop-color="#a51818"/><stop offset="0.95" stop-color="#721818"/><stop offset="1.00" stop-color="#4e1818"/></linearGradient><radialGradient id="s22" gradientUnits="userSpaceOnUse" cx="1224.2" cy="479.1" fx="1221.3" fy="479.2" r="36.0"><stop offset="0.00" stop-color="#d2d2ff"/><stop offset="0.10" stop-color="#adadff"/><stop offset="0.20" stop-color="#6e6efa"/><stop offset="0.30" stop-color="#3e3ed8"/><stop offset="0.40" stop-color="#2424ae"/><stop offset="0.50" stop-color="#1a1a95"/><stop offset="0.70" stop-color="#181886"/><stop offset="0.90" stop-color="#181871"/><stop offset="1.00" stop-color="#181850"/></radialGradient><linearGradient id="l23" gradientUnits="userSpaceOnUse" x1="461.4" y1="0" x2="489.2" y2="0"><stop offset="0.00" stop-color="#4c1616"/><stop offset="0.05" stop-color="#941616"/><stop offset="0.10" stop-color="#b61616"/><stop offset="0.15" stop-color="#cd1616"/><stop offset="0.20" stop-color="#de1616"/><stop offset="0.25" stop-color="#eb1e1e"/><stop offset="0.30" stop-color="#f62323"/><stop offset="0.35" stop-color="#ff3838"/><stop offset="0.40" stop-color="#ff6868"/><stop offset="0.45" stop-color="#ffa7a7"/><stop offset="0.50" stop-color="#ffcece"/><stop offset="0.55" stop-color="#ffbebe"/><stop offset="0.60" stop-color="#ff8585"/><stop offset="0.65" stop-color="#ff4b4b"/><stop offset="0.70" stop-color="#fb2a2a"/><stop offset="0.75" stop-color="#f01f1f"/><stop offset="0.80" stop-color="#e41d1d"/><stop offset="0.85" stop-color="#d51616"/><stop offset="0.90" stop-color="#c11616"/><stop offset="0.95" stop-color="#a61616"/><stop offset="1.00" stop-color="#741616"/></linearGradient><radialGradient id="s23" gradientUnits="userSpaceOnUse" cx="475.3" cy="570.6" fx="476.1" fy="570.2" r="34.8"><stop offset="0.00" stop-color="#ffffb1"/><stop offset="0.08" stop-color="#fffa9f"/><stop offset="0.16" stop-color="#ffe471"/><stop offset="0.24" stop-color="#faba43"/><stop offset="0.32" stop-color="#da9628"/><stop offset="0.42" stop-color="#ba7a1b"/><stop offset="0.55" stop-color="#aa6e16"/><stop offset="0.70" stop-color="#9f6816"/><stop offset="0.90" stop-color="#875916"/><stop offset="1.00" stop-color="#664316"/></radialGradient><linearGradient id="l24" gradientUnits="userSpaceOnUse" x1="338.4" y1="0" x2="366.2" y2="0"><stop offset="0.00" stop-color="#4c1515"/><stop offset="0.05" stop-color="#8c1515"/><stop offset="0.10" stop-color="#b11515"/><stop offset="0.15" stop-color="#c91515"/><stop offset="0.20" stop-color="#db1515"/><stop offset="0.25" stop-color="#e91d1d"/><stop offset="0.30" stop-color="#f42121"/><stop offset="0.35" stop-color="#ff3333"/><stop offset="0.40" stop-color="#ff5e5e"/><stop offset="0.45" stop-color="#ff9c9c"/><stop offset="0.50" stop-color="#ffcaca"/><stop offset="0.55" stop-color="#ffc5c5"/><stop offset="0.60" stop-color="#ff8f8f"/><stop offset="0.65" stop-color="#ff5353"/><stop offset="0.70" stop-color="#fd2d2d"/><stop offset="0.75" stop-color="#f22020"/><stop offset="0.80" stop-color="#e61d1d"/><stop offset="0.85" stop-color="#d81515"/><stop offset="0.90" stop-color="#c51515"/><stop offset="0.95" stop-color="#ab1515"/><stop offset="1.00" stop-color="#801515"/></linearGradient><radialGradient id="s24" gradientUnits="userSpaceOnUse" cx="352.3" cy="309.0" fx="353.7" fy="309.9" r="36.0"><stop offset="0.00" stop-color="#d1d1ff"/><stop offset="0.10" stop-color="#acacff"/><stop offset="0.20" stop-color="#6c6cfa"/><stop offset="0.30" stop-color="#3c3cd8"/><stop offset="0.40" stop-color="#2121ad"/><stop offset="0.50" stop-color="#171794"/><stop offset="0.70" stop-color="#151585"/><stop offset="0.90" stop-color="#15156f"/><stop offset="1.00" stop-color="#15154e"/></radialGradient><linearGradient id="l25" gradientUnits="userSpaceOnUse" x1="706.6" y1="0" x2="734.4" y2="0"><stop offset="0.00" stop-color="#671414"/><stop offset="0.05" stop-color="#a11414"/><stop offset="0.10" stop-color="#be1414"/><stop offset="0.15" stop-color="#d31414"/><stop offset="0.20" stop-color="#e31c1c"/><stop offset="0.25" stop-color="#ef1d1d"/><stop offset="0.30" stop-color="#fa2727"/><stop offset="0.35" stop-color="#ff4444"/><stop offset="0.40" stop-color="#ff7c7c"/><stop offset="0.45" stop-color="#ffb8b8"/><stop offset="0.50" stop-color="#ffcfcf"/><stop offset="0.55" stop-color="#ffadad"/><stop offset="0.60" stop-color="#ff6e6e"/><stop offset="0.65" stop-color="#ff3b3b"/><stop offset="0.70" stop-color="#f72323"/><stop offset="0.75" stop-color="#ec1d1d"/><stop offset="0.80" stop-color="#df1414"/><stop offset="0.85" stop-color="#cf1414"/><stop offset="0.90" stop-color="#b91414"/><stop offset="0.95" stop-color="#981414"/><stop offset="1.00" stop-color="#4b1414"/></linearGradient><radialGradient id="s25" gradientUnits="userSpaceOnUse" cx="720.5" cy="746.1" fx="720.1" fy="744.8" r="34.8"><stop offset="0.00" stop-color="#ffffb1"/><stop offset="0.08" stop-color="#fffa9e"/><stop offset="0.16" stop-color="#ffe370"/><stop offset="0.24" stop-color="#faba42"/><stop offset="0.32" stop-color="#da9527"/><stop offset="0.42" stop-color="#ba791a"/><stop offset="0.55" stop-color="#a96d15"/><stop offset="0.70" stop-color="#9e6714"/><stop offset="0.90" stop-color="#865814"/><stop offset="1.00" stop-color="#654214"/></radialGradient><linearGradient id="l26" gradientUnits="userSpaceOnUse" x1="583.1" y1="0" x2="610.9" y2="0"><stop offset="0.00" stop-color="#4a1212"/><stop offset="0.05" stop-color="#9a1212"/><stop offset="0.10" stop-color="#ba1212"/><stop offset="0.15" stop-color="#cf1212"/><stop offset="0.20" stop-color="#e01212"/><stop offset="0.25" stop-color="#ed1b1b"/><stop offset="0.30" stop-color="#f82222"/><stop offset="0.35" stop-color="#ff3c3c"/><stop offset="0.40" stop-color="#ff7070"/><stop offset="0.45" stop-color="#ffafaf"/><stop offset="0.50" stop-color="#ffcfcf"/><stop offset="0.55" stop-color="#ffb5b5"/><stop offset="0.60" stop-color="#ff7878"/><stop offset="0.65" stop-color="#ff4141"/><stop offset="0.70" stop-color="#f92424"/><stop offset="0.75" stop-color="#ee1b1b"/><stop offset="0.80" stop-color="#e21a1a"/><stop offset="0.85" stop-color="#d21212"/><stop offset="0.90" stop-color="#bd1212"/><stop offset="0.95" stop-color="#9e1212"/><stop offset="1.00" stop-color="#5f1212"/></linearGradient><radialGradient id="s26" gradientUnits="userSpaceOnUse" cx="597.0" cy="310.6" fx="597.2" fy="311.5" r="36.0"><stop offset="0.00" stop-color="#d1d1ff"/><stop offset="0.10" stop-color="#ababff"/><stop offset="0.20" stop-color="#6a6afa"/><stop offset="0.30" stop-color="#3939d7"/><stop offset="0.40" stop-color="#1e1eac"/><stop offset="0.50" stop-color="#141492"/><stop offset="0.70" stop-color="#121284"/><stop offset="0.90" stop-color="#12126d"/><stop offset="1.00" stop-color="#12124c"/></radialGradient><linearGradient id="l27" gradientUnits="userSpaceOnUse" x1="950.9" y1="0" x2="978.7" y2="0"><stop offset="0.00" stop-color="#811010"/><stop offset="0.05" stop-color="#ab1010"/><stop offset="0.10" stop-color="#c51010"/><stop offset="0.15" stop-color="#d81010"/><stop offset="0.20" stop-color="#e71818"/><stop offset="0.25" stop-color="#f21b1b"/><stop offset="0.30" stop-color="#fe2a2a"/><stop offset="0.35" stop-color="#ff5252"/><stop offset="0.40" stop-color="#ff9191"/><stop offset="0.45" stop-color="#ffc5c5"/><stop offset="0.50" stop-color="#ffc8c8"/><stop offset="0.55" stop-color="#ff9797"/><stop offset="0.60" stop-color="#ff5757"/><stop offset="0.65" stop-color="#ff2d2d"/><stop offset="0.70" stop-color="#f31c1c"/><stop offset="0.75" stop-color="#e81818"/><stop offset="0.80" stop-color="#da1010"/><stop offset="0.85" stop-color="#c71010"/><stop offset="0.90" stop-color="#ae1010"/><stop offset="0.95" stop-color="#861010"/><stop offset="1.00" stop-color="#481010"/></linearGradient><radialGradient id="s27" gradientUnits="userSpaceOnUse" cx="964.8" cy="573.9" fx="963.2" fy="573.4" r="34.8"><stop offset="0.00" stop-color="#ffffaf"/><stop offset="0.08" stop-color="#fffa9d"/><stop offset="0.16" stop-color="#ffe36e"/><stop offset="0.24" stop-color="#fab93f"/><stop offset="0.32" stop-color="#da9323"/><stop offset="0.42" stop-color="#b97716"/><stop offset="0.55" stop-color="#a86b11"/><stop offset="0.70" stop-color="#9d6410"/><stop offset="0.90" stop-color="#845510"/><stop offset="1.00" stop-color="#633f10"/></radialGradient><linearGradient id="l28" gradientUnits="userSpaceOnUse" x1="827.9" y1="0" x2="855.7" y2="0"><stop offset="0.00" stop-color="#751010"/><stop offset="0.05" stop-color="#a51010"/><stop offset="0.10" stop-color="#c11010"/><stop offset="0.15" stop-color="#d51010"/><stop offset="0.20" stop-color="#e41717"/><stop offset="0.25" stop-color="#f01a1a"/><stop offset="0.30" stop-color="#fc2626"/><stop offset="0.35" stop-color="#ff4949"/><stop offset="0.40" stop-color="#ff8585"/><stop offset="0.45" stop-color="#ffbfbf"/><stop offset="0.50" stop-color="#ffcccc"/><stop offset="0.55" stop-color="#ffa1a1"/><stop offset="0.60" stop-color="#ff6161"/><stop offset="0.65" stop-color="#ff3232"/><stop offset="0.70" stop-color="#f51d1d"/><stop offset="0.75" stop-color="#ea1818"/><stop offset="0.80" stop-color="#dc1010"/><stop offset="0.85" stop-color="#cb1010"/><stop offset="0.90" stop-color="#b31010"/><stop offset="0.95" stop-color="#8f1010"/><stop offset="1.00" stop-color="#481010"/></linearGradient><radialGradient id="s28" gradientUnits="userSpaceOnUse" cx="841.8" cy="312.2" fx="840.8" fy="313.1" r="36.0"><stop offset="0.00" stop-color="#d0d0ff"/><stop offset="0.10" stop-color="#aaaaff"/><stop offset="0.20" stop-color="#6969fa"/><stop offset="0.30" stop-color="#3737d7"/><stop offset="0.40" stop-color="#1c1cab"/><stop offset="0.50" stop-color="#111191"/><stop offset="0.70" stop-color="#101082"/><stop offset="0.90" stop-color="#10106c"/><stop offset="1.00" stop-color="#10104a"/></radialGradient><linearGradient id="l29" gradientUnits="userSpaceOnUse" x1="1072.6" y1="0" x2="1100.4" y2="0"><stop offset="0.00" stop-color="#890d0d"/><stop offset="0.05" stop-color="#af0d0d"/><stop offset="0.10" stop-color="#c80d0d"/><stop offset="0.15" stop-color="#da0d0d"/><stop offset="0.20" stop-color="#e81515"/><stop offset="0.25" stop-color="#f41919"/><stop offset="0.30" stop-color="#ff2c2c"/><stop offset="0.35" stop-color="#ff5959"/><stop offset="0.40" stop-color="#ff9a9a"/><stop offset="0.45" stop-color="#ffc9c9"/><stop offset="0.50" stop-color="#ffc2c2"/><stop offset="0.55" stop-color="#ff8a8a"/><stop offset="0.60" stop-color="#ff4c4c"/><stop offset="0.65" stop-color="#fd2525"/><stop offset="0.70" stop-color="#f11818"/><stop offset="0.75" stop-color="#e51515"/><stop offset="0.80" stop-color="#d60d0d"/><stop offset="0.85" stop-color="#c30d0d"/><stop offset="0.90" stop-color="#a80d0d"/><stop offset="0.95" stop-color="#7a0d0d"/><stop offset="1.00" stop-color="#460d0d"/></linearGradient><radialGradient id="s29" gradientUnits="userSpaceOnUse" cx="1086.5" cy="313.9" fx="1084.3" fy="314.7" r="36.0"><stop offset="0.00" stop-color="#d0d0ff"/><stop offset="0.10" stop-color="#aaaaff"/><stop offset="0.20" stop-color="#6767fa"/><stop offset="0.30" stop-color="#3535d6"/><stop offset="0.40" stop-color="#1919aa"/><stop offset="0.50" stop-color="#0f0f90"/><stop offset="0.70" stop-color="#0d0d81"/><stop offset="0.90" stop-color="#0d0d6a"/><stop offset="1.00" stop-color="#0d0d48"/></radialGradient><linearGradient id="l30" gradientUnits="userSpaceOnUse" x1="447.1" y1="0" x2="474.9" y2="0"><stop offset="0.00" stop-color="#450c0c"/><stop offset="0.05" stop-color="#8f0c0c"/><stop offset="0.10" stop-color="#b30c0c"/><stop offset="0.15" stop-color="#cb0c0c"/><stop offset="0.20" stop-color="#dc0c0c"/><stop offset="0.25" stop-color="#ea1515"/><stop offset="0.30" stop-color="#f61a1a"/><stop offset="0.35" stop-color="#ff3030"/><stop offset="0.40" stop-color="#ff6161"/><stop offset="0.45" stop-color="#ffa2a2"/><stop offset="0.50" stop-color="#ffcccc"/><stop offset="0.55" stop-color="#ffbcbc"/><stop offset="0.60" stop-color="#ff8181"/><stop offset="0.65" stop-color="#ff4545"/><stop offset="0.70" stop-color="#fb2222"/><stop offset="0.75" stop-color="#f01616"/><stop offset="0.80" stop-color="#e41414"/><stop offset="0.85" stop-color="#d40c0c"/><stop offset="0.90" stop-color="#bf0c0c"/><stop offset="0.95" stop-color="#a30c0c"/><stop offset="1.00" stop-color="#700c0c"/></linearGradient><radialGradient id="s30" gradientUnits="userSpaceOnUse" cx="461.0" cy="840.9" fx="461.9" fy="839.0" r="36.0"><stop offset="0.00" stop-color="#cfcfff"/><stop offset="0.10" stop-color="#a9a9ff"/><stop offset="0.20" stop-color="#6767fa"/><stop offset="0.30" stop-color="#3434d6"/><stop offset="0.40" stop-color="#1919aa"/><stop offset="0.50" stop-color="#0e0e90"/><stop offset="0.70" stop-color="#0c0c80"/><stop offset="0.90" stop-color="#0c0c6a"/><stop offset="1.00" stop-color="#0c0c47"/></radialGradient><linearGradient id="l31" gradientUnits="userSpaceOnUse" x1="445.4" y1="0" x2="473.2" y2="0"><stop offset="0.00" stop-color="#420707"/><stop offset="0.05" stop-color="#8c0707"/><stop offset="0.10" stop-color="#b10707"/><stop offset="0.15" stop-color="#c90707"/><stop offset="0.20" stop-color="#db0707"/><stop offset="0.25" stop-color="#ea1010"/><stop offset="0.30" stop-color="#f51515"/><stop offset="0.35" stop-color="#ff2b2b"/><stop offset="0.40" stop-color="#ff5d5d"/><stop offset="0.45" stop-color="#ffa0a0"/><stop offset="0.50" stop-color="#ffcaca"/><stop offset="0.55" stop-color="#ffbbbb"/><stop offset="0.60" stop-color="#ff7f7f"/><stop offset="0.65" stop-color="#ff4141"/><stop offset="0.70" stop-color="#fb1d1d"/><stop offset="0.75" stop-color="#f01111"/><stop offset="0.80" stop-color="#e30f0f"/><stop offset="0.85" stop-color="#d30707"/><stop offset="0.90" stop-color="#be0707"/><stop offset="0.95" stop-color="#a10707"/><stop offset="1.00" stop-color="#6d0707"/></linearGradient><radialGradient id="s31" gradientUnits="userSpaceOnUse" cx="459.3" cy="145.4" fx="460.2" fy="147.0" r="36.0"><stop offset="0.00" stop-color="#ceceff"/><stop offset="0.10" stop-color="#a8a8ff"/><stop offset="0.20" stop-color="#6464fa"/><stop offset="0.30" stop-color="#3030d5"/><stop offset="0.40" stop-color="#1414a9"/><stop offset="0.50" stop-color="#09098d"/><stop offset="0.70" stop-color="#07077e"/><stop offset="0.90" stop-color="#070766"/><stop offset="1.00" stop-color="#070743"/></radialGradient><linearGradient id="l32" gradientUnits="userSpaceOnUse" x1="691.0" y1="0" x2="718.8" y2="0"><stop offset="0.00" stop-color="#5c0707"/><stop offset="0.05" stop-color="#9b0707"/><stop offset="0.10" stop-color="#ba0707"/><stop offset="0.15" stop-color="#d00707"/><stop offset="0.20" stop-color="#e10f0f"/><stop offset="0.25" stop-color="#ee1111"/><stop offset="0.30" stop-color="#f91a1a"/><stop offset="0.35" stop-color="#ff3939"/><stop offset="0.40" stop-color="#ff7474"/><stop offset="0.45" stop-color="#ffb3b3"/><stop offset="0.50" stop-color="#ffcccc"/><stop offset="0.55" stop-color="#ffaaaa"/><stop offset="0.60" stop-color="#ff6868"/><stop offset="0.65" stop-color="#ff3131"/><stop offset="0.70" stop-color="#f71717"/><stop offset="0.75" stop-color="#ec1010"/><stop offset="0.80" stop-color="#de0707"/><stop offset="0.85" stop-color="#cd0707"/><stop offset="0.90" stop-color="#b50707"/><stop offset="0.95" stop-color="#940707"/><stop offset="1.00" stop-color="#410707"/></linearGradient><radialGradient id="s32" gradientUnits="userSpaceOnUse" cx="704.9" cy="494.7" fx="704.6" fy="494.7" r="36.0"><stop offset="0.00" stop-color="#ceceff"/><stop offset="0.10" stop-color="#a7a7ff"/><stop offset="0.20" stop-color="#6363fa"/><stop offset="0.30" stop-color="#3030d5"/><stop offset="0.40" stop-color="#1414a8"/><stop offset="0.50" stop-color="#09098d"/><stop offset="0.70" stop-color="#07077e"/><stop offset="0.90" stop-color="#070766"/><stop offset="1.00" stop-color="#070743"/></radialGradient><linearGradient id="l33" gradientUnits="userSpaceOnUse" x1="936.6" y1="0" x2="964.4" y2="0"><stop offset="0.00" stop-color="#7b0707"/><stop offset="0.05" stop-color="#a70707"/><stop offset="0.10" stop-color="#c20707"/><stop offset="0.15" stop-color="#d60707"/><stop offset="0.20" stop-color="#e50f0f"/><stop offset="0.25" stop-color="#f21212"/><stop offset="0.30" stop-color="#fe2121"/><stop offset="0.35" stop-color="#ff4a4a"/><stop offset="0.40" stop-color="#ff8b8b"/><stop offset="0.45" stop-color="#ffc2c2"/><stop offset="0.50" stop-color="#ffc6c6"/><stop offset="0.55" stop-color="#ff9494"/><stop offset="0.60" stop-color="#ff5252"/><stop offset="0.65" stop-color="#ff2525"/><stop offset="0.70" stop-color="#f31313"/><stop offset="0.75" stop-color="#e70f0f"/><stop offset="0.80" stop-color="#d90707"/><stop offset="0.85" stop-color="#c50707"/><stop offset="0.90" stop-color="#ab0707"/><stop offset="0.95" stop-color="#830707"/><stop offset="1.00" stop-color="#410707"/></linearGradient><radialGradient id="s33" gradientUnits="userSpaceOnUse" cx="950.5" cy="844.1" fx="948.9" fy="842.3" r="36.0"><stop offset="0.00" stop-color="#ceceff"/><stop offset="0.10" stop-color="#a7a7ff"/><stop offset="0.20" stop-color="#6363fa"/><stop offset="0.30" stop-color="#3030d5"/><stop offset="0.40" stop-color="#1414a8"/><stop offset="0.50" stop-color="#09098d"/><stop offset="0.70" stop-color="#07077e"/><stop offset="0.90" stop-color="#070766"/><stop offset="1.00" stop-color="#070743"/></radialGradient><linearGradient id="l34" gradientUnits="userSpaceOnUse" x1="934.9" y1="0" x2="962.7" y2="0"><stop offset="0.00" stop-color="#780202"/><stop offset="0.05" stop-color="#a50202"/><stop offset="0.10" stop-color="#c10202"/><stop offset="0.15" stop-color="#d50202"/><stop offset="0.20" stop-color="#e50a0a"/><stop offset="0.25" stop-color="#f10d0d"/><stop offset="0.30" stop-color="#fd1d1d"/><stop offset="0.35" stop-color="#ff4646"/><stop offset="0.40" stop-color="#ff8888"/><stop offset="0.45" stop-color="#ffc1c1"/><stop offset="0.50" stop-color="#ffc5c5"/><stop offset="0.55" stop-color="#ff9292"/><stop offset="0.60" stop-color="#ff4f4f"/><stop offset="0.65" stop-color="#ff2121"/><stop offset="0.70" stop-color="#f30e0e"/><stop offset="0.75" stop-color="#e70a0a"/><stop offset="0.80" stop-color="#d80202"/><stop offset="0.85" stop-color="#c40202"/><stop offset="0.90" stop-color="#aa0202"/><stop offset="0.95" stop-color="#810202"/><stop offset="1.00" stop-color="#3d0202"/></linearGradient><radialGradient id="s34" gradientUnits="userSpaceOnUse" cx="948.8" cy="148.6" fx="947.3" fy="150.3" r="36.0"><stop offset="0.00" stop-color="#cdcdff"/><stop offset="0.10" stop-color="#a6a6ff"/><stop offset="0.20" stop-color="#6060fa"/><stop offset="0.30" stop-color="#2b2bd4"/><stop offset="0.40" stop-color="#0f0fa7"/><stop offset="0.50" stop-color="#04048b"/><stop offset="0.70" stop-color="#02027b"/><stop offset="0.90" stop-color="#020263"/><stop offset="1.00" stop-color="#02023f"/></radialGradient><linearGradient id="l35" gradientUnits="userSpaceOnUse" x1="554.1" y1="0" x2="581.9" y2="0"><stop offset="0.00" stop-color="#3c0000"/><stop offset="0.05" stop-color="#900000"/><stop offset="0.10" stop-color="#b30000"/><stop offset="0.15" stop-color="#cb0000"/><stop offset="0.20" stop-color="#dd0000"/><stop offset="0.25" stop-color="#eb0909"/><stop offset="0.30" stop-color="#f71111"/><stop offset="0.35" stop-color="#ff2b2b"/><stop offset="0.40" stop-color="#ff6363"/><stop offset="0.45" stop-color="#ffa7a7"/><stop offset="0.50" stop-color="#ffcbcb"/><stop offset="0.55" stop-color="#ffb2b2"/><stop offset="0.60" stop-color="#ff7070"/><stop offset="0.65" stop-color="#ff3434"/><stop offset="0.70" stop-color="#f91414"/><stop offset="0.75" stop-color="#ed0a0a"/><stop offset="0.80" stop-color="#e00808"/><stop offset="0.85" stop-color="#cf0000"/><stop offset="0.90" stop-color="#b80000"/><stop offset="0.95" stop-color="#990000"/><stop offset="1.00" stop-color="#590000"/></linearGradient><radialGradient id="s35" gradientUnits="userSpaceOnUse" cx="568.0" cy="677.2" fx="568.4" fy="676.2" r="36.0"><stop offset="0.00" stop-color="#cdcdff"/><stop offset="0.10" stop-color="#a5a5ff"/><stop offset="0.20" stop-color="#5f5ffa"/><stop offset="0.30" stop-color="#2a2ad4"/><stop offset="0.40" stop-color="#0d0da6"/><stop offset="0.50" stop-color="#02028a"/><stop offset="0.70" stop-color="#00007a"/><stop offset="0.90" stop-color="#000062"/><stop offset="1.00" stop-color="#00003e"/></radialGradient><linearGradient id="l36" gradientUnits="userSpaceOnUse" x1="798.9" y1="0" x2="826.7" y2="0"><stop offset="0.00" stop-color="#680000"/><stop offset="0.05" stop-color="#9e0000"/><stop offset="0.10" stop-color="#bc0000"/><stop offset="0.15" stop-color="#d20000"/><stop offset="0.20" stop-color="#e20808"/><stop offset="0.25" stop-color="#ef0a0a"/><stop offset="0.30" stop-color="#fb1717"/><stop offset="0.35" stop-color="#ff3b3b"/><stop offset="0.40" stop-color="#ff7a7a"/><stop offset="0.45" stop-color="#ffb9b9"/><stop offset="0.50" stop-color="#ffc9c9"/><stop offset="0.55" stop-color="#ff9e9e"/><stop offset="0.60" stop-color="#ff5959"/><stop offset="0.65" stop-color="#ff2626"/><stop offset="0.70" stop-color="#f50f0f"/><stop offset="0.75" stop-color="#e90909"/><stop offset="0.80" stop-color="#db0000"/><stop offset="0.85" stop-color="#c80000"/><stop offset="0.90" stop-color="#af0000"/><stop offset="0.95" stop-color="#8a0000"/><stop offset="1.00" stop-color="#3c0000"/></linearGradient><radialGradient id="s36" gradientUnits="userSpaceOnUse" cx="812.8" cy="678.8" fx="811.9" fy="677.8" r="36.0"><stop offset="0.00" stop-color="#cdcdff"/><stop offset="0.10" stop-color="#a5a5ff"/><stop offset="0.20" stop-color="#5f5ffa"/><stop offset="0.30" stop-color="#2a2ad4"/><stop offset="0.40" stop-color="#0d0da6"/><stop offset="0.50" stop-color="#02028a"/><stop offset="0.70" stop-color="#00007a"/><stop offset="0.90" stop-color="#000062"/><stop offset="1.00" stop-color="#00003e"/></radialGradient><linearGradient id="l37" gradientUnits="userSpaceOnUse" x1="675.4" y1="0" x2="703.2" y2="0"><stop offset="0.00" stop-color="#540000"/><stop offset="0.05" stop-color="#970000"/><stop offset="0.10" stop-color="#b80000"/><stop offset="0.15" stop-color="#ce0000"/><stop offset="0.20" stop-color="#df0808"/><stop offset="0.25" stop-color="#ed0a0a"/><stop offset="0.30" stop-color="#f91313"/><stop offset="0.35" stop-color="#ff3232"/><stop offset="0.40" stop-color="#ff6e6e"/><stop offset="0.45" stop-color="#ffb0b0"/><stop offset="0.50" stop-color="#ffcbcb"/><stop offset="0.55" stop-color="#ffa8a8"/><stop offset="0.60" stop-color="#ff6565"/><stop offset="0.65" stop-color="#ff2c2c"/><stop offset="0.70" stop-color="#f71111"/><stop offset="0.75" stop-color="#eb0909"/><stop offset="0.80" stop-color="#dd0000"/><stop offset="0.85" stop-color="#cc0000"/><stop offset="0.90" stop-color="#b40000"/><stop offset="0.95" stop-color="#920000"/><stop offset="1.00" stop-color="#3c0000"/></linearGradient><radialGradient id="s37" gradientUnits="userSpaceOnUse" cx="689.3" cy="243.3" fx="689.1" fy="244.5" r="34.8"><stop offset="0.00" stop-color="#ffffaa"/><stop offset="0.08" stop-color="#fffa96"/><stop offset="0.16" stop-color="#ffe164"/><stop offset="0.24" stop-color="#fab432"/><stop offset="0.32" stop-color="#d78c14"/><stop offset="0.42" stop-color="#b46e06"/><stop offset="0.55" stop-color="#a26101"/><stop offset="0.70" stop-color="#965a00"/><stop offset="0.90" stop-color="#7c4a00"/><stop offset="1.00" stop-color="#583200"/></radialGradient><linearGradient id="l38" gradientUnits="userSpaceOnUse" x1="661.1" y1="0" x2="688.9" y2="0"><stop offset="0.00" stop-color="#500000"/><stop offset="0.05" stop-color="#960000"/><stop offset="0.10" stop-color="#b70000"/><stop offset="0.15" stop-color="#ce0000"/><stop offset="0.20" stop-color="#df0808"/><stop offset="0.25" stop-color="#ed0a0a"/><stop offset="0.30" stop-color="#f91313"/><stop offset="0.35" stop-color="#ff3131"/><stop offset="0.40" stop-color="#ff6d6d"/><stop offset="0.45" stop-color="#ffafaf"/><stop offset="0.50" stop-color="#ffcbcb"/><stop offset="0.55" stop-color="#ffaaaa"/><stop offset="0.60" stop-color="#ff6666"/><stop offset="0.65" stop-color="#ff2d2d"/><stop offset="0.70" stop-color="#f71111"/><stop offset="0.75" stop-color="#eb0909"/><stop offset="0.80" stop-color="#de0000"/><stop offset="0.85" stop-color="#cc0000"/><stop offset="0.90" stop-color="#b40000"/><stop offset="0.95" stop-color="#920000"/><stop offset="1.00" stop-color="#3c0000"/></linearGradient><radialGradient id="s38" gradientUnits="userSpaceOnUse" cx="675.0" cy="513.5" fx="674.9" fy="513.4" r="36.0"><stop offset="0.00" stop-color="#cdcdff"/><stop offset="0.10" stop-color="#a5a5ff"/><stop offset="0.20" stop-color="#5f5ffa"/><stop offset="0.30" stop-color="#2a2ad4"/><stop offset="0.40" stop-color="#0d0da6"/><stop offset="0.50" stop-color="#02028a"/><stop offset="0.70" stop-color="#00007a"/><stop offset="0.90" stop-color="#000062"/><stop offset="1.00" stop-color="#00003e"/></radialGradient>
<linearGradient id="tb" x1="0" x2="1" y1="0" y2="0"><stop offset="0" stop-color="#0000a8"/><stop offset=".4" stop-color="#2828ff"/><stop offset=".6" stop-color="#0000ff"/><stop offset="1" stop-color="#0000a8"/></linearGradient>
<linearGradient id="tbc" x1="0" x2="1" y1="0" y2="0"><stop offset="0" stop-color="#000090"/><stop offset=".5" stop-color="#0000f0"/><stop offset="1" stop-color="#000090"/></linearGradient>
<linearGradient id="tr" x1="0" x2="0" y1="0" y2="1"><stop offset="0" stop-color="#c00000"/><stop offset=".4" stop-color="#d80000"/><stop offset="1" stop-color="#900000"/></linearGradient>
<linearGradient id="trc" x1="0" x2="0" y1="0" y2="1"><stop offset="0" stop-color="#d00000"/><stop offset=".35" stop-color="#f00000"/><stop offset=".7" stop-color="#d00000"/><stop offset="1" stop-color="#800000"/></linearGradient>
<linearGradient id="tg" x1="0" x2="0" y1="0" y2="1"><stop offset="0" stop-color="#00a000"/><stop offset=".4" stop-color="#00b000"/><stop offset="1" stop-color="#007000"/></linearGradient>
<radialGradient id="tgc" gradientUnits="userSpaceOnUse" cx="166" cy="820" r="15"><stop offset="0" stop-color="#00f000"/><stop offset=".6" stop-color="#00d000"/><stop offset="1" stop-color="#009000"/></radialGradient>
<radialGradient id="ts" cx=".5" cy=".5" r=".5"><stop offset="0" stop-color="#ffffff"/><stop offset=".3" stop-color="#e0e0e0"/><stop offset=".7" stop-color="#c4c4c4"/><stop offset="1" stop-color="#989898"/></radialGradient>
</defs>
<rect width="1320" height="952" fill="#fff"/>
<g><circle cx="794.4" cy="438.2" r="36.0" fill="url(#s0)"/><path d="M780.5 471.2 A13.9 1.3 0 0 0 808.3 471.2 L808.3 513.0 A13.9 1.2 0 0 1 780.5 513.0 Z" fill="url(#l0)"/><path d="M780.5 398.2 L808.3 398.2 L808.3 405.2 A13.9 1.6 0 0 1 780.5 405.2 Z" fill="url(#l0)"/><path d="M794.4 364.2 L822.4 398.9 A28.0 1.8 0 0 1 766.4 398.9 Z" fill="#754a4a"/><path d="M794.4 364.2 L821.6 399.3 A27.2 1.4 0 0 1 767.3 399.3 Z" fill="#914a4a"/><path d="M794.4 364.2 L820.5 399.5 A26.0 1.1 0 0 1 768.4 399.5 Z" fill="#a04a4a"/><path d="M794.4 364.2 L818.8 399.7 A24.4 0.9 0 0 1 770.1 399.7 Z" fill="#af4a4a"/><path d="M794.4 364.2 L816.8 399.9 A22.4 0.7 0 0 1 772.0 399.9 Z" fill="#bc4a4a"/><path d="M794.4 364.2 L814.0 400.1 A19.6 0.5 0 0 1 774.8 400.1 Z" fill="#ca4a4a"/><path d="M794.4 364.2 L810.7 400.3 A16.2 0.3 0 0 1 778.2 400.3 Z" fill="#d54a4a"/><path d="M794.4 364.2 L806.8 400.5 A12.3 0.2 0 0 1 782.1 400.5 Z" fill="#df4a4a"/><path d="M794.4 364.2 L802.8 400.6 A8.4 0.1 0 0 1 786.0 400.6 Z" fill="#e64a4a"/><path d="M794.4 364.2 L798.6 400.6 A4.2 0.0 0 0 1 790.2 400.6 Z" fill="#ea4a4a"/></g>
<g><circle cx="780.2" cy="708.5" r="34.8" fill="url(#s1)"/><path d="M780.2 814.1 L752.2 778.8 A28.0 2.2 0 0 0 808.2 778.8 Z" fill="#6d4141"/><path d="M780.2 814.1 L753.0 779.3 A27.2 1.7 0 0 0 807.3 779.3 Z" fill="#884141"/><path d="M780.2 814.1 L754.1 779.6 A26.0 1.4 0 0 0 806.2 779.6 Z" fill="#964141"/><path d="M780.2 814.1 L755.8 779.9 A24.4 1.1 0 0 0 804.5 779.9 Z" fill="#a34141"/><path d="M780.2 814.1 L757.8 780.1 A22.4 0.9 0 0 0 802.6 780.1 Z" fill="#af4141"/><path d="M780.2 814.1 L760.6 780.3 A19.6 0.6 0 0 0 799.8 780.3 Z" fill="#bc4141"/><path d="M780.2 814.1 L763.9 780.6 A16.2 0.4 0 0 0 796.4 780.6 Z" fill="#c74141"/><path d="M780.2 814.1 L767.8 780.8 A12.3 0.2 0 0 0 792.5 780.8 Z" fill="#d04141"/><path d="M780.2 814.1 L771.8 780.9 A8.4 0.1 0 0 0 788.6 780.9 Z" fill="#d64141"/><path d="M780.2 814.1 L776.0 781.0 A4.2 0.0 0 0 0 784.4 781.0 Z" fill="#da4141"/><ellipse cx="780.2" cy="778.8" rx="28.0" ry="2.2" fill="#8f4141"/><path d="M766.3 740.2 A13.9 1.3 0 0 0 794.1 740.2 L794.1 779.0 A13.9 1.2 0 0 1 766.3 779.0 Z" fill="url(#l1)"/><path d="M766.3 603.0 L794.1 603.0 L794.1 676.8 A13.9 1.6 0 0 1 766.3 676.8 Z" fill="url(#l1)"/><ellipse cx="780.2" cy="603.0" rx="13.9" ry="1.2" fill="#854141"/></g>
<g><circle cx="656.7" cy="273.0" r="36.0" fill="url(#s2)"/><path d="M642.8 306.0 A13.9 1.3 0 0 0 670.6 306.0 L670.6 347.7 A13.9 1.2 0 0 1 642.8 347.7 Z" fill="url(#l2)"/><path d="M642.8 233.0 L670.6 233.0 L670.6 240.0 A13.9 1.6 0 0 1 642.8 240.0 Z" fill="url(#l2)"/><path d="M656.7 199.0 L684.7 233.6 A28.0 1.8 0 0 1 628.7 233.6 Z" fill="#6c3f3f"/><path d="M656.7 199.0 L683.9 234.0 A27.2 1.4 0 0 1 629.6 234.0 Z" fill="#8a3f3f"/><path d="M656.7 199.0 L682.8 234.2 A26.0 1.1 0 0 1 630.7 234.2 Z" fill="#9a3f3f"/><path d="M656.7 199.0 L681.1 234.5 A24.4 0.9 0 0 1 632.4 234.5 Z" fill="#aa3f3f"/><path d="M656.7 199.0 L679.1 234.7 A22.4 0.7 0 0 1 634.3 234.7 Z" fill="#b73f3f"/><path d="M656.7 199.0 L676.3 234.9 A19.6 0.5 0 0 1 637.1 234.9 Z" fill="#c73f3f"/><path d="M656.7 199.0 L673.0 235.0 A16.2 0.3 0 0 1 640.5 235.0 Z" fill="#d33f3f"/><path d="M656.7 199.0 L669.0 235.2 A12.3 0.2 0 0 1 644.4 235.2 Z" fill="#dd3f3f"/><path d="M656.7 199.0 L665.1 235.3 A8.4 0.1 0 0 1 648.3 235.3 Z" fill="#e53f3f"/><path d="M656.7 199.0 L660.9 235.4 A4.2 0.0 0 0 1 652.5 235.4 Z" fill="#e93f3f"/></g>
<g><circle cx="901.5" cy="274.6" r="36.0" fill="url(#s3)"/><path d="M887.6 307.6 A13.9 1.3 0 0 0 915.4 307.6 L915.4 349.3 A13.9 1.2 0 0 1 887.6 349.3 Z" fill="url(#l3)"/><path d="M887.6 234.6 L915.4 234.6 L915.4 241.6 A13.9 1.6 0 0 1 887.6 241.6 Z" fill="url(#l3)"/><path d="M901.5 200.6 L929.5 235.2 A28.0 1.8 0 0 1 873.5 235.2 Z" fill="#6a3c3c"/><path d="M901.5 200.6 L928.6 235.6 A27.2 1.4 0 0 1 874.3 235.6 Z" fill="#893c3c"/><path d="M901.5 200.6 L927.5 235.9 A26.0 1.1 0 0 1 875.4 235.9 Z" fill="#993c3c"/><path d="M901.5 200.6 L925.8 236.1 A24.4 0.9 0 0 1 877.1 236.1 Z" fill="#a93c3c"/><path d="M901.5 200.6 L923.9 236.3 A22.4 0.7 0 0 1 879.1 236.3 Z" fill="#b63c3c"/><path d="M901.5 200.6 L921.1 236.5 A19.6 0.5 0 0 1 881.9 236.5 Z" fill="#c63c3c"/><path d="M901.5 200.6 L917.7 236.7 A16.2 0.3 0 0 1 885.2 236.7 Z" fill="#d23c3c"/><path d="M901.5 200.6 L913.8 236.8 A12.3 0.2 0 0 1 889.2 236.8 Z" fill="#dd3c3c"/><path d="M901.5 200.6 L909.9 236.9 A8.4 0.1 0 0 1 893.1 236.9 Z" fill="#e43c3c"/><path d="M901.5 200.6 L905.7 237.0 A4.2 0.0 0 0 1 897.3 237.0 Z" fill="#e93c3c"/></g>
<g><circle cx="520.7" cy="803.2" r="36.0" fill="url(#s4)"/><path d="M506.8 836.2 A13.9 1.3 0 0 0 534.6 836.2 L534.6 877.9 A13.9 1.2 0 0 1 506.8 877.9 Z" fill="url(#l4)"/><path d="M506.8 763.2 L534.6 763.2 L534.6 770.2 A13.9 1.6 0 0 1 506.8 770.2 Z" fill="url(#l4)"/><path d="M520.7 729.2 L548.7 763.8 A28.0 1.8 0 0 1 492.7 763.8 Z" fill="#683939"/><path d="M520.7 729.2 L547.9 764.2 A27.2 1.4 0 0 1 493.5 764.2 Z" fill="#873939"/><path d="M520.7 729.2 L546.7 764.5 A26.0 1.1 0 0 1 494.7 764.5 Z" fill="#973939"/><path d="M520.7 729.2 L545.1 764.7 A24.4 0.9 0 0 1 496.3 764.7 Z" fill="#a73939"/><path d="M520.7 729.2 L543.1 764.9 A22.4 0.7 0 0 1 498.3 764.9 Z" fill="#b53939"/><path d="M520.7 729.2 L540.3 765.1 A19.6 0.5 0 0 1 501.1 765.1 Z" fill="#c53939"/><path d="M520.7 729.2 L536.9 765.3 A16.2 0.3 0 0 1 504.5 765.3 Z" fill="#d13939"/><path d="M520.7 729.2 L533.0 765.4 A12.3 0.2 0 0 1 508.4 765.4 Z" fill="#dc3939"/><path d="M520.7 729.2 L529.1 765.5 A8.4 0.1 0 0 1 512.3 765.5 Z" fill="#e43939"/><path d="M520.7 729.2 L524.9 765.6 A4.2 0.0 0 0 1 516.5 765.6 Z" fill="#e83939"/></g>
<g><circle cx="519.0" cy="107.7" r="36.0" fill="url(#s5)"/><path d="M505.1 140.7 A13.9 1.3 0 0 0 532.9 140.7 L532.9 182.4 A13.9 1.2 0 0 1 505.1 182.4 Z" fill="url(#l5)"/><path d="M505.1 67.7 L532.9 67.7 L532.9 74.7 A13.9 1.6 0 0 1 505.1 74.7 Z" fill="url(#l5)"/><path d="M519.0 33.7 L547.0 68.3 A28.0 1.8 0 0 1 491.0 68.3 Z" fill="#643434"/><path d="M519.0 33.7 L546.2 68.7 A27.2 1.4 0 0 1 491.8 68.7 Z" fill="#843434"/><path d="M519.0 33.7 L545.0 69.0 A26.0 1.1 0 0 1 493.0 69.0 Z" fill="#943434"/><path d="M519.0 33.7 L543.4 69.2 A24.4 0.9 0 0 1 494.6 69.2 Z" fill="#a53434"/><path d="M519.0 33.7 L541.4 69.4 A22.4 0.7 0 0 1 496.6 69.4 Z" fill="#b33434"/><path d="M519.0 33.7 L538.6 69.6 A19.6 0.5 0 0 1 499.4 69.6 Z" fill="#c33434"/><path d="M519.0 33.7 L535.2 69.8 A16.2 0.3 0 0 1 502.8 69.8 Z" fill="#d03434"/><path d="M519.0 33.7 L531.3 69.9 A12.3 0.2 0 0 1 506.7 69.9 Z" fill="#db3434"/><path d="M519.0 33.7 L527.4 70.0 A8.4 0.1 0 0 1 510.6 70.0 Z" fill="#e33434"/><path d="M519.0 33.7 L523.2 70.1 A4.2 0.0 0 0 1 514.8 70.1 Z" fill="#e83434"/></g>
<g><circle cx="764.6" cy="457.1" r="36.0" fill="url(#s6)"/><path d="M750.7 490.1 A13.9 1.3 0 0 0 778.5 490.1 L778.5 531.8 A13.9 1.2 0 0 1 750.7 531.8 Z" fill="url(#l6)"/><path d="M750.7 417.1 L778.5 417.1 L778.5 424.1 A13.9 1.6 0 0 1 750.7 424.1 Z" fill="url(#l6)"/><path d="M764.6 383.1 L792.6 417.7 A28.0 1.8 0 0 1 736.6 417.7 Z" fill="#643434"/><path d="M764.6 383.1 L791.8 418.1 A27.2 1.4 0 0 1 737.4 418.1 Z" fill="#833434"/><path d="M764.6 383.1 L790.6 418.3 A26.0 1.1 0 0 1 738.6 418.3 Z" fill="#943434"/><path d="M764.6 383.1 L789.0 418.6 A24.4 0.9 0 0 1 740.2 418.6 Z" fill="#a53434"/><path d="M764.6 383.1 L787.0 418.8 A22.4 0.7 0 0 1 742.2 418.8 Z" fill="#b33434"/><path d="M764.6 383.1 L784.2 419.0 A19.6 0.5 0 0 1 745.0 419.0 Z" fill="#c33434"/><path d="M764.6 383.1 L780.8 419.1 A16.2 0.3 0 0 1 748.4 419.1 Z" fill="#d03434"/><path d="M764.6 383.1 L776.9 419.3 A12.3 0.2 0 0 1 752.3 419.3 Z" fill="#db3434"/><path d="M764.6 383.1 L773.0 419.4 A8.4 0.1 0 0 1 756.2 419.4 Z" fill="#e33434"/><path d="M764.6 383.1 L768.8 419.5 A4.2 0.0 0 0 1 760.4 419.5 Z" fill="#e83434"/></g>
<g><circle cx="1010.2" cy="806.5" r="36.0" fill="url(#s7)"/><path d="M996.3 839.5 A13.9 1.3 0 0 0 1024.1 839.5 L1024.1 881.2 A13.9 1.2 0 0 1 996.3 881.2 Z" fill="url(#l7)"/><path d="M996.3 766.5 L1024.1 766.5 L1024.1 773.5 A13.9 1.6 0 0 1 996.3 773.5 Z" fill="url(#l7)"/><path d="M1010.2 732.5 L1038.2 767.1 A28.0 1.8 0 0 1 982.2 767.1 Z" fill="#633333"/><path d="M1010.2 732.5 L1037.4 767.5 A27.2 1.4 0 0 1 983.0 767.5 Z" fill="#833333"/><path d="M1010.2 732.5 L1036.2 767.7 A26.0 1.1 0 0 1 984.2 767.7 Z" fill="#943333"/><path d="M1010.2 732.5 L1034.6 767.9 A24.4 0.9 0 0 1 985.8 767.9 Z" fill="#a53333"/><path d="M1010.2 732.5 L1032.6 768.1 A22.4 0.7 0 0 1 987.8 768.1 Z" fill="#b33333"/><path d="M1010.2 732.5 L1029.8 768.3 A19.6 0.5 0 0 1 990.6 768.3 Z" fill="#c33333"/><path d="M1010.2 732.5 L1026.4 768.5 A16.2 0.3 0 0 1 994.0 768.5 Z" fill="#d03333"/><path d="M1010.2 732.5 L1022.5 768.7 A12.3 0.2 0 0 1 997.9 768.7 Z" fill="#db3333"/><path d="M1010.2 732.5 L1018.6 768.8 A8.4 0.1 0 0 1 1001.8 768.8 Z" fill="#e33333"/><path d="M1010.2 732.5 L1014.4 768.8 A4.2 0.0 0 0 1 1006.0 768.8 Z" fill="#e83333"/></g>
<g><circle cx="1008.5" cy="111.0" r="36.0" fill="url(#s8)"/><path d="M994.6 144.0 A13.9 1.3 0 0 0 1022.4 144.0 L1022.4 185.7 A13.9 1.2 0 0 1 994.6 185.7 Z" fill="url(#l8)"/><path d="M994.6 71.0 L1022.4 71.0 L1022.4 78.0 A13.9 1.6 0 0 1 994.6 78.0 Z" fill="url(#l8)"/><path d="M1008.5 37.0 L1036.5 71.6 A28.0 1.8 0 0 1 980.5 71.6 Z" fill="#5f2e2e"/><path d="M1008.5 37.0 L1035.7 72.0 A27.2 1.4 0 0 1 981.3 72.0 Z" fill="#802e2e"/><path d="M1008.5 37.0 L1034.5 72.2 A26.0 1.1 0 0 1 982.5 72.2 Z" fill="#912e2e"/><path d="M1008.5 37.0 L1032.9 72.4 A24.4 0.9 0 0 1 984.1 72.4 Z" fill="#a32e2e"/><path d="M1008.5 37.0 L1030.9 72.6 A22.4 0.7 0 0 1 986.1 72.6 Z" fill="#b12e2e"/><path d="M1008.5 37.0 L1028.1 72.8 A19.6 0.5 0 0 1 988.9 72.8 Z" fill="#c22e2e"/><path d="M1008.5 37.0 L1024.7 73.0 A16.2 0.3 0 0 1 992.3 73.0 Z" fill="#cf2e2e"/><path d="M1008.5 37.0 L1020.8 73.2 A12.3 0.2 0 0 1 996.2 73.2 Z" fill="#da2e2e"/><path d="M1008.5 37.0 L1016.9 73.3 A8.4 0.1 0 0 1 1000.1 73.3 Z" fill="#e22e2e"/><path d="M1008.5 37.0 L1012.7 73.3 A4.2 0.0 0 0 1 1004.3 73.3 Z" fill="#e72e2e"/></g>
<g><circle cx="383.0" cy="637.9" r="36.0" fill="url(#s9)"/><path d="M369.1 670.9 A13.9 1.3 0 0 0 396.9 670.9 L396.9 712.6 A13.9 1.2 0 0 1 369.1 712.6 Z" fill="url(#l9)"/><path d="M369.1 597.9 L396.9 597.9 L396.9 604.9 A13.9 1.6 0 0 1 369.1 604.9 Z" fill="url(#l9)"/><path d="M383.0 563.9 L411.0 598.5 A28.0 1.8 0 0 1 355.0 598.5 Z" fill="#5f2e2e"/><path d="M383.0 563.9 L410.1 599.0 A27.2 1.4 0 0 1 355.8 599.0 Z" fill="#802e2e"/><path d="M383.0 563.9 L409.0 599.2 A26.0 1.1 0 0 1 356.9 599.2 Z" fill="#912e2e"/><path d="M383.0 563.9 L407.3 599.4 A24.4 0.9 0 0 1 358.6 599.4 Z" fill="#a22e2e"/><path d="M383.0 563.9 L405.4 599.6 A22.4 0.7 0 0 1 360.6 599.6 Z" fill="#b12e2e"/><path d="M383.0 563.9 L402.6 599.8 A19.6 0.5 0 0 1 363.4 599.8 Z" fill="#c12e2e"/><path d="M383.0 563.9 L399.2 600.0 A16.2 0.3 0 0 1 366.7 600.0 Z" fill="#cf2e2e"/><path d="M383.0 563.9 L395.3 600.1 A12.3 0.2 0 0 1 370.7 600.1 Z" fill="#da2e2e"/><path d="M383.0 563.9 L391.4 600.2 A8.4 0.1 0 0 1 374.6 600.2 Z" fill="#e22e2e"/><path d="M383.0 563.9 L387.2 600.3 A4.2 0.0 0 0 1 378.8 600.3 Z" fill="#e72e2e"/></g>
<g><circle cx="627.7" cy="639.6" r="36.0" fill="url(#s10)"/><path d="M613.8 672.6 A13.9 1.3 0 0 0 641.6 672.6 L641.6 714.3 A13.9 1.2 0 0 1 613.8 714.3 Z" fill="url(#l10)"/><path d="M613.8 599.6 L641.6 599.6 L641.6 606.6 A13.9 1.6 0 0 1 613.8 606.6 Z" fill="url(#l10)"/><path d="M627.7 565.6 L655.7 600.2 A28.0 1.8 0 0 1 599.7 600.2 Z" fill="#5d2b2b"/><path d="M627.7 565.6 L654.9 600.6 A27.2 1.4 0 0 1 600.6 600.6 Z" fill="#7e2b2b"/><path d="M627.7 565.6 L653.8 600.8 A26.0 1.1 0 0 1 601.7 600.8 Z" fill="#902b2b"/><path d="M627.7 565.6 L652.1 601.0 A24.4 0.9 0 0 1 603.4 601.0 Z" fill="#a12b2b"/><path d="M627.7 565.6 L650.1 601.2 A22.4 0.7 0 0 1 605.3 601.2 Z" fill="#b02b2b"/><path d="M627.7 565.6 L647.3 601.4 A19.6 0.5 0 0 1 608.1 601.4 Z" fill="#c12b2b"/><path d="M627.7 565.6 L644.0 601.6 A16.2 0.3 0 0 1 611.5 601.6 Z" fill="#ce2b2b"/><path d="M627.7 565.6 L640.0 601.8 A12.3 0.2 0 0 1 615.4 601.8 Z" fill="#da2b2b"/><path d="M627.7 565.6 L636.1 601.9 A8.4 0.1 0 0 1 619.3 601.9 Z" fill="#e22b2b"/><path d="M627.7 565.6 L631.9 601.9 A4.2 0.0 0 0 1 623.5 601.9 Z" fill="#e72b2b"/></g>
<g><circle cx="504.7" cy="377.9" r="34.8" fill="url(#s11)"/><path d="M504.7 483.5 L476.7 448.2 A28.0 2.2 0 0 0 532.7 448.2 Z" fill="#5d2b2b"/><path d="M504.7 483.5 L477.6 448.8 A27.2 1.7 0 0 0 531.9 448.8 Z" fill="#7a2b2b"/><path d="M504.7 483.5 L478.7 449.0 A26.0 1.4 0 0 0 530.8 449.0 Z" fill="#8a2b2b"/><path d="M504.7 483.5 L480.4 449.3 A24.4 1.1 0 0 0 529.1 449.3 Z" fill="#992b2b"/><path d="M504.7 483.5 L482.3 449.5 A22.4 0.9 0 0 0 527.1 449.5 Z" fill="#a62b2b"/><path d="M504.7 483.5 L485.1 449.8 A19.6 0.6 0 0 0 524.3 449.8 Z" fill="#b42b2b"/><path d="M504.7 483.5 L488.5 450.0 A16.2 0.4 0 0 0 521.0 450.0 Z" fill="#c12b2b"/><path d="M504.7 483.5 L492.4 450.2 A12.3 0.2 0 0 0 517.0 450.2 Z" fill="#cb2b2b"/><path d="M504.7 483.5 L496.3 450.3 A8.4 0.1 0 0 0 513.1 450.3 Z" fill="#d12b2b"/><path d="M504.7 483.5 L500.5 450.4 A4.2 0.0 0 0 0 508.9 450.4 Z" fill="#d62b2b"/><ellipse cx="504.7" cy="448.2" rx="28.0" ry="2.2" fill="#822b2b"/><path d="M490.8 409.6 A13.9 1.3 0 0 0 518.6 409.6 L518.6 448.4 A13.9 1.2 0 0 1 490.8 448.4 Z" fill="url(#l11)"/><path d="M490.8 272.4 L518.6 272.4 L518.6 346.2 A13.9 1.6 0 0 1 490.8 346.2 Z" fill="url(#l11)"/><ellipse cx="504.7" cy="272.4" rx="13.9" ry="1.2" fill="#772b2b"/></g>
<g><circle cx="872.5" cy="641.2" r="36.0" fill="url(#s12)"/><path d="M858.6 674.2 A13.9 1.3 0 0 0 886.4 674.2 L886.4 715.9 A13.9 1.2 0 0 1 858.6 715.9 Z" fill="url(#l12)"/><path d="M858.6 601.2 L886.4 601.2 L886.4 608.2 A13.9 1.6 0 0 1 858.6 608.2 Z" fill="url(#l12)"/><path d="M872.5 567.2 L900.5 601.8 A28.0 1.8 0 0 1 844.5 601.8 Z" fill="#5b2828"/><path d="M872.5 567.2 L899.6 602.2 A27.2 1.4 0 0 1 845.3 602.2 Z" fill="#7d2828"/><path d="M872.5 567.2 L898.5 602.4 A26.0 1.1 0 0 1 846.4 602.4 Z" fill="#8e2828"/><path d="M872.5 567.2 L896.8 602.7 A24.4 0.9 0 0 1 848.1 602.7 Z" fill="#a02828"/><path d="M872.5 567.2 L894.9 602.9 A22.4 0.7 0 0 1 850.1 602.9 Z" fill="#af2828"/><path d="M872.5 567.2 L892.1 603.1 A19.6 0.5 0 0 1 852.9 603.1 Z" fill="#c02828"/><path d="M872.5 567.2 L888.7 603.2 A16.2 0.3 0 0 1 856.2 603.2 Z" fill="#cd2828"/><path d="M872.5 567.2 L884.8 603.4 A12.3 0.2 0 0 1 860.2 603.4 Z" fill="#d92828"/><path d="M872.5 567.2 L880.9 603.5 A8.4 0.1 0 0 1 864.1 603.5 Z" fill="#e22828"/><path d="M872.5 567.2 L876.7 603.6 A4.2 0.0 0 0 1 868.3 603.6 Z" fill="#e72828"/></g>
<g><circle cx="749.0" cy="205.7" r="34.8" fill="url(#s13)"/><path d="M749.0 311.3 L721.0 276.0 A28.0 2.2 0 0 0 777.0 276.0 Z" fill="#5a2727"/><path d="M749.0 311.3 L721.9 276.5 A27.2 1.7 0 0 0 776.2 276.5 Z" fill="#772727"/><path d="M749.0 311.3 L723.0 276.8 A26.0 1.4 0 0 0 775.1 276.8 Z" fill="#872727"/><path d="M749.0 311.3 L724.7 277.1 A24.4 1.1 0 0 0 773.4 277.1 Z" fill="#972727"/><path d="M749.0 311.3 L726.6 277.3 A22.4 0.9 0 0 0 771.4 277.3 Z" fill="#a42727"/><path d="M749.0 311.3 L729.4 277.5 A19.6 0.6 0 0 0 768.6 277.5 Z" fill="#b32727"/><path d="M749.0 311.3 L732.8 277.8 A16.2 0.4 0 0 0 765.3 277.8 Z" fill="#bf2727"/><path d="M749.0 311.3 L736.7 278.0 A12.3 0.2 0 0 0 761.4 278.0 Z" fill="#ca2727"/><path d="M749.0 311.3 L740.6 278.1 A8.4 0.1 0 0 0 757.4 278.1 Z" fill="#d02727"/><path d="M749.0 311.3 L744.8 278.2 A4.2 0.0 0 0 0 753.2 278.2 Z" fill="#d52727"/><ellipse cx="749.0" cy="276.0" rx="28.0" ry="2.2" fill="#802727"/><path d="M735.1 237.4 A13.9 1.3 0 0 0 762.9 237.4 L762.9 276.2 A13.9 1.2 0 0 1 735.1 276.2 Z" fill="url(#l13)"/><path d="M735.1 100.2 L762.9 100.2 L762.9 174.0 A13.9 1.6 0 0 1 735.1 174.0 Z" fill="url(#l13)"/><ellipse cx="749.0" cy="100.2" rx="13.9" ry="1.2" fill="#752727"/></g>
<g><circle cx="1117.2" cy="642.8" r="36.0" fill="url(#s14)"/><path d="M1103.3 675.8 A13.9 1.3 0 0 0 1131.1 675.8 L1131.1 717.5 A13.9 1.2 0 0 1 1103.3 717.5 Z" fill="url(#l14)"/><path d="M1103.3 602.8 L1131.1 602.8 L1131.1 609.8 A13.9 1.6 0 0 1 1103.3 609.8 Z" fill="url(#l14)"/><path d="M1117.2 568.8 L1145.2 603.4 A28.0 1.8 0 0 1 1089.2 603.4 Z" fill="#592626"/><path d="M1117.2 568.8 L1144.4 603.8 A27.2 1.4 0 0 1 1090.1 603.8 Z" fill="#7b2626"/><path d="M1117.2 568.8 L1143.3 604.1 A26.0 1.1 0 0 1 1091.2 604.1 Z" fill="#8d2626"/><path d="M1117.2 568.8 L1141.6 604.3 A24.4 0.9 0 0 1 1092.9 604.3 Z" fill="#9f2626"/><path d="M1117.2 568.8 L1139.6 604.5 A22.4 0.7 0 0 1 1094.8 604.5 Z" fill="#ae2626"/><path d="M1117.2 568.8 L1136.8 604.7 A19.6 0.5 0 0 1 1097.6 604.7 Z" fill="#bf2626"/><path d="M1117.2 568.8 L1133.5 604.9 A16.2 0.3 0 0 1 1101.0 604.9 Z" fill="#cd2626"/><path d="M1117.2 568.8 L1129.5 605.0 A12.3 0.2 0 0 1 1104.9 605.0 Z" fill="#d92626"/><path d="M1117.2 568.8 L1125.6 605.1 A8.4 0.1 0 0 1 1108.8 605.1 Z" fill="#e12626"/><path d="M1117.2 568.8 L1121.4 605.2 A4.2 0.0 0 0 1 1113.0 605.2 Z" fill="#e62626"/></g>
<g><circle cx="994.2" cy="381.2" r="34.8" fill="url(#s15)"/><path d="M994.2 486.8 L966.2 451.5 A28.0 2.2 0 0 0 1022.2 451.5 Z" fill="#582525"/><path d="M994.2 486.8 L967.1 452.0 A27.2 1.7 0 0 0 1021.4 452.0 Z" fill="#762525"/><path d="M994.2 486.8 L968.2 452.3 A26.0 1.4 0 0 0 1020.3 452.3 Z" fill="#872525"/><path d="M994.2 486.8 L969.9 452.6 A24.4 1.1 0 0 0 1018.6 452.6 Z" fill="#962525"/><path d="M994.2 486.8 L971.8 452.8 A22.4 0.9 0 0 0 1016.6 452.8 Z" fill="#a42525"/><path d="M994.2 486.8 L974.6 453.0 A19.6 0.6 0 0 0 1013.8 453.0 Z" fill="#b22525"/><path d="M994.2 486.8 L978.0 453.3 A16.2 0.4 0 0 0 1010.5 453.3 Z" fill="#bf2525"/><path d="M994.2 486.8 L981.9 453.5 A12.3 0.2 0 0 0 1006.5 453.5 Z" fill="#c92525"/><path d="M994.2 486.8 L985.8 453.6 A8.4 0.1 0 0 0 1002.6 453.6 Z" fill="#d02525"/><path d="M994.2 486.8 L990.0 453.7 A4.2 0.0 0 0 0 998.4 453.7 Z" fill="#d52525"/><ellipse cx="994.2" cy="451.5" rx="28.0" ry="2.2" fill="#7f2525"/><path d="M980.3 412.9 A13.9 1.3 0 0 0 1008.1 412.9 L1008.1 451.7 A13.9 1.2 0 0 1 980.3 451.7 Z" fill="url(#l15)"/><path d="M980.3 275.7 L1008.1 275.7 L1008.1 349.5 A13.9 1.6 0 0 1 980.3 349.5 Z" fill="url(#l15)"/><ellipse cx="994.2" cy="275.7" rx="13.9" ry="1.2" fill="#742525"/></g>
<g><circle cx="245.2" cy="472.6" r="36.0" fill="url(#s16)"/><path d="M231.3 505.6 A13.9 1.3 0 0 0 259.1 505.6 L259.1 547.4 A13.9 1.2 0 0 1 231.3 547.4 Z" fill="url(#l16)"/><path d="M231.3 432.6 L259.1 432.6 L259.1 439.6 A13.9 1.6 0 0 1 231.3 439.6 Z" fill="url(#l16)"/><path d="M245.2 398.6 L273.2 433.2 A28.0 1.8 0 0 1 217.2 433.2 Z" fill="#572323"/><path d="M245.2 398.6 L272.4 433.7 A27.2 1.4 0 0 1 218.1 433.7 Z" fill="#792323"/><path d="M245.2 398.6 L271.3 433.9 A26.0 1.1 0 0 1 219.2 433.9 Z" fill="#8b2323"/><path d="M245.2 398.6 L269.6 434.1 A24.4 0.9 0 0 1 220.9 434.1 Z" fill="#9d2323"/><path d="M245.2 398.6 L267.6 434.3 A22.4 0.7 0 0 1 222.8 434.3 Z" fill="#ad2323"/><path d="M245.2 398.6 L264.8 434.5 A19.6 0.5 0 0 1 225.6 434.5 Z" fill="#be2323"/><path d="M245.2 398.6 L261.5 434.7 A16.2 0.3 0 0 1 229.0 434.7 Z" fill="#cc2323"/><path d="M245.2 398.6 L257.6 434.9 A12.3 0.2 0 0 1 232.9 434.9 Z" fill="#d82323"/><path d="M245.2 398.6 L253.6 435.0 A8.4 0.1 0 0 1 236.8 435.0 Z" fill="#e12323"/><path d="M245.2 398.6 L249.4 435.0 A4.2 0.0 0 0 1 241.0 435.0 Z" fill="#e62323"/></g>
<g><circle cx="490.8" cy="822.0" r="36.0" fill="url(#s17)"/><path d="M476.9 855.0 A13.9 1.3 0 0 0 504.7 855.0 L504.7 896.7 A13.9 1.2 0 0 1 476.9 896.7 Z" fill="url(#l17)"/><path d="M476.9 782.0 L504.7 782.0 L504.7 789.0 A13.9 1.6 0 0 1 476.9 789.0 Z" fill="url(#l17)"/><path d="M490.8 748.0 L518.8 782.6 A28.0 1.8 0 0 1 462.8 782.6 Z" fill="#562323"/><path d="M490.8 748.0 L518.0 783.1 A27.2 1.4 0 0 1 463.7 783.1 Z" fill="#792323"/><path d="M490.8 748.0 L516.9 783.3 A26.0 1.1 0 0 1 464.8 783.3 Z" fill="#8b2323"/><path d="M490.8 748.0 L515.2 783.5 A24.4 0.9 0 0 1 466.5 783.5 Z" fill="#9d2323"/><path d="M490.8 748.0 L513.2 783.7 A22.4 0.7 0 0 1 468.4 783.7 Z" fill="#ad2323"/><path d="M490.8 748.0 L510.4 783.9 A19.6 0.5 0 0 1 471.2 783.9 Z" fill="#be2323"/><path d="M490.8 748.0 L507.1 784.1 A16.2 0.3 0 0 1 474.6 784.1 Z" fill="#cc2323"/><path d="M490.8 748.0 L503.2 784.2 A12.3 0.2 0 0 1 478.5 784.2 Z" fill="#d82323"/><path d="M490.8 748.0 L499.2 784.3 A8.4 0.1 0 0 1 482.4 784.3 Z" fill="#e12323"/><path d="M490.8 748.0 L495.0 784.4 A4.2 0.0 0 0 1 486.6 784.4 Z" fill="#e62323"/></g>
<g><circle cx="489.1" cy="126.5" r="36.0" fill="url(#s18)"/><path d="M475.2 159.5 A13.9 1.3 0 0 0 503.0 159.5 L503.0 201.2 A13.9 1.2 0 0 1 475.2 201.2 Z" fill="url(#l18)"/><path d="M475.2 86.5 L503.0 86.5 L503.0 93.5 A13.9 1.6 0 0 1 475.2 93.5 Z" fill="url(#l18)"/><path d="M489.1 52.5 L517.1 87.1 A28.0 1.8 0 0 1 461.1 87.1 Z" fill="#531e1e"/><path d="M489.1 52.5 L516.3 87.6 A27.2 1.4 0 0 1 462.0 87.6 Z" fill="#761e1e"/><path d="M489.1 52.5 L515.2 87.8 A26.0 1.1 0 0 1 463.1 87.8 Z" fill="#891e1e"/><path d="M489.1 52.5 L513.5 88.0 A24.4 0.9 0 0 1 464.8 88.0 Z" fill="#9b1e1e"/><path d="M489.1 52.5 L511.5 88.2 A22.4 0.7 0 0 1 466.7 88.2 Z" fill="#ab1e1e"/><path d="M489.1 52.5 L508.7 88.4 A19.6 0.5 0 0 1 469.5 88.4 Z" fill="#bd1e1e"/><path d="M489.1 52.5 L505.4 88.6 A16.2 0.3 0 0 1 472.9 88.6 Z" fill="#cb1e1e"/><path d="M489.1 52.5 L501.5 88.7 A12.3 0.2 0 0 1 476.8 88.7 Z" fill="#d71e1e"/><path d="M489.1 52.5 L497.5 88.8 A8.4 0.1 0 0 1 480.7 88.8 Z" fill="#e01e1e"/><path d="M489.1 52.5 L493.3 88.9 A4.2 0.0 0 0 1 484.9 88.9 Z" fill="#e51e1e"/></g>
<g><circle cx="734.7" cy="475.9" r="36.0" fill="url(#s19)"/><path d="M720.8 508.9 A13.9 1.3 0 0 0 748.6 508.9 L748.6 550.6 A13.9 1.2 0 0 1 720.8 550.6 Z" fill="url(#l19)"/><path d="M720.8 435.9 L748.6 435.9 L748.6 442.9 A13.9 1.6 0 0 1 720.8 442.9 Z" fill="url(#l19)"/><path d="M734.7 401.9 L762.7 436.5 A28.0 1.8 0 0 1 706.7 436.5 Z" fill="#521d1d"/><path d="M734.7 401.9 L761.9 436.9 A27.2 1.4 0 0 1 707.6 436.9 Z" fill="#761d1d"/><path d="M734.7 401.9 L760.8 437.2 A26.0 1.1 0 0 1 708.7 437.2 Z" fill="#881d1d"/><path d="M734.7 401.9 L759.1 437.4 A24.4 0.9 0 0 1 710.4 437.4 Z" fill="#9b1d1d"/><path d="M734.7 401.9 L757.1 437.6 A22.4 0.7 0 0 1 712.3 437.6 Z" fill="#ab1d1d"/><path d="M734.7 401.9 L754.3 437.8 A19.6 0.5 0 0 1 715.1 437.8 Z" fill="#bd1d1d"/><path d="M734.7 401.9 L751.0 438.0 A16.2 0.3 0 0 1 718.5 438.0 Z" fill="#cb1d1d"/><path d="M734.7 401.9 L747.1 438.1 A12.3 0.2 0 0 1 722.4 438.1 Z" fill="#d71d1d"/><path d="M734.7 401.9 L743.1 438.2 A8.4 0.1 0 0 1 726.3 438.2 Z" fill="#e01d1d"/><path d="M734.7 401.9 L738.9 438.3 A4.2 0.0 0 0 1 730.5 438.3 Z" fill="#e51d1d"/></g>
<g><circle cx="980.4" cy="825.3" r="36.0" fill="url(#s20)"/><path d="M966.5 858.3 A13.9 1.3 0 0 0 994.2 858.3 L994.2 900.0 A13.9 1.2 0 0 1 966.5 900.0 Z" fill="url(#l20)"/><path d="M966.5 785.3 L994.2 785.3 L994.2 792.3 A13.9 1.6 0 0 1 966.5 792.3 Z" fill="url(#l20)"/><path d="M980.4 751.3 L1008.4 785.9 A28.0 1.8 0 0 1 952.4 785.9 Z" fill="#521d1d"/><path d="M980.4 751.3 L1007.5 786.3 A27.2 1.4 0 0 1 953.2 786.3 Z" fill="#761d1d"/><path d="M980.4 751.3 L1006.4 786.5 A26.0 1.1 0 0 1 954.3 786.5 Z" fill="#881d1d"/><path d="M980.4 751.3 L1004.7 786.8 A24.4 0.9 0 0 1 956.0 786.8 Z" fill="#9b1d1d"/><path d="M980.4 751.3 L1002.8 787.0 A22.4 0.7 0 0 1 958.0 787.0 Z" fill="#ab1d1d"/><path d="M980.4 751.3 L1000.0 787.2 A19.6 0.5 0 0 1 960.8 787.2 Z" fill="#bd1d1d"/><path d="M980.4 751.3 L996.6 787.3 A16.2 0.3 0 0 1 964.1 787.3 Z" fill="#cb1d1d"/><path d="M980.4 751.3 L992.7 787.5 A12.3 0.2 0 0 1 968.0 787.5 Z" fill="#d71d1d"/><path d="M980.4 751.3 L988.8 787.6 A8.4 0.1 0 0 1 972.0 787.6 Z" fill="#e01d1d"/><path d="M980.4 751.3 L984.6 787.7 A4.2 0.0 0 0 1 976.1 787.7 Z" fill="#e51d1d"/></g>
<g><circle cx="978.6" cy="129.8" r="36.0" fill="url(#s21)"/><path d="M964.8 162.8 A13.9 1.3 0 0 0 992.5 162.8 L992.5 204.5 A13.9 1.2 0 0 1 964.8 204.5 Z" fill="url(#l21)"/><path d="M964.8 89.8 L992.5 89.8 L992.5 96.8 A13.9 1.6 0 0 1 964.8 96.8 Z" fill="url(#l21)"/><path d="M978.6 55.8 L1006.6 90.4 A28.0 1.8 0 0 1 950.6 90.4 Z" fill="#4e1818"/><path d="M978.6 55.8 L1005.8 90.8 A27.2 1.4 0 0 1 951.5 90.8 Z" fill="#731818"/><path d="M978.6 55.8 L1004.7 91.0 A26.0 1.1 0 0 1 952.6 91.0 Z" fill="#861818"/><path d="M978.6 55.8 L1003.0 91.3 A24.4 0.9 0 0 1 954.3 91.3 Z" fill="#991818"/><path d="M978.6 55.8 L1001.0 91.5 A22.4 0.7 0 0 1 956.2 91.5 Z" fill="#a91818"/><path d="M978.6 55.8 L998.2 91.7 A19.6 0.5 0 0 1 959.0 91.7 Z" fill="#bb1818"/><path d="M978.6 55.8 L994.9 91.8 A16.2 0.3 0 0 1 962.4 91.8 Z" fill="#ca1818"/><path d="M978.6 55.8 L991.0 92.0 A12.3 0.2 0 0 1 966.3 92.0 Z" fill="#d61818"/><path d="M978.6 55.8 L987.0 92.1 A8.4 0.1 0 0 1 970.2 92.1 Z" fill="#df1818"/><path d="M978.6 55.8 L982.9 92.2 A4.2 0.0 0 0 1 974.4 92.2 Z" fill="#e51818"/></g>
<g><circle cx="1224.2" cy="479.1" r="36.0" fill="url(#s22)"/><path d="M1210.3 512.1 A13.9 1.3 0 0 0 1238.2 512.1 L1238.2 553.9 A13.9 1.2 0 0 1 1210.3 553.9 Z" fill="url(#l22)"/><path d="M1210.3 439.1 L1238.2 439.1 L1238.2 446.1 A13.9 1.6 0 0 1 1210.3 446.1 Z" fill="url(#l22)"/><path d="M1224.2 405.1 L1252.2 439.8 A28.0 1.8 0 0 1 1196.2 439.8 Z" fill="#4e1818"/><path d="M1224.2 405.1 L1251.4 440.2 A27.2 1.4 0 0 1 1197.1 440.2 Z" fill="#731818"/><path d="M1224.2 405.1 L1250.3 440.4 A26.0 1.1 0 0 1 1198.2 440.4 Z" fill="#861818"/><path d="M1224.2 405.1 L1248.6 440.6 A24.4 0.9 0 0 1 1199.9 440.6 Z" fill="#991818"/><path d="M1224.2 405.1 L1246.7 440.8 A22.4 0.7 0 0 1 1201.8 440.8 Z" fill="#a91818"/><path d="M1224.2 405.1 L1243.8 441.0 A19.6 0.5 0 0 1 1204.7 441.0 Z" fill="#bb1818"/><path d="M1224.2 405.1 L1240.5 441.2 A16.2 0.3 0 0 1 1208.0 441.2 Z" fill="#ca1818"/><path d="M1224.2 405.1 L1236.6 441.4 A12.3 0.2 0 0 1 1211.9 441.4 Z" fill="#d61818"/><path d="M1224.2 405.1 L1232.7 441.5 A8.4 0.1 0 0 1 1215.8 441.5 Z" fill="#df1818"/><path d="M1224.2 405.1 L1228.5 441.5 A4.2 0.0 0 0 1 1220.0 441.5 Z" fill="#e51818"/></g>
<g><circle cx="475.3" cy="570.6" r="34.8" fill="url(#s23)"/><path d="M475.3 676.2 L447.3 640.9 A28.0 2.2 0 0 0 503.3 640.9 Z" fill="#4c1616"/><path d="M475.3 676.2 L448.1 641.5 A27.2 1.7 0 0 0 502.4 641.5 Z" fill="#6d1616"/><path d="M475.3 676.2 L449.2 641.7 A26.0 1.4 0 0 0 501.3 641.7 Z" fill="#7e1616"/><path d="M475.3 676.2 L450.9 642.0 A24.4 1.1 0 0 0 499.6 642.0 Z" fill="#8e1616"/><path d="M475.3 676.2 L452.9 642.2 A22.4 0.9 0 0 0 497.7 642.2 Z" fill="#9d1616"/><path d="M475.3 676.2 L455.7 642.5 A19.6 0.6 0 0 0 494.9 642.5 Z" fill="#ad1616"/><path d="M475.3 676.2 L459.0 642.7 A16.2 0.4 0 0 0 491.5 642.7 Z" fill="#ba1616"/><path d="M475.3 676.2 L463.0 642.9 A12.3 0.2 0 0 0 487.6 642.9 Z" fill="#c51616"/><path d="M475.3 676.2 L466.9 643.0 A8.4 0.1 0 0 0 483.7 643.0 Z" fill="#cd1616"/><path d="M475.3 676.2 L471.1 643.1 A4.2 0.0 0 0 0 479.5 643.1 Z" fill="#d21616"/><ellipse cx="475.3" cy="640.9" rx="28.0" ry="2.2" fill="#761616"/><path d="M461.4 602.3 A13.9 1.3 0 0 0 489.2 602.3 L489.2 641.1 A13.9 1.2 0 0 1 461.4 641.1 Z" fill="url(#l23)"/><path d="M461.4 465.1 L489.2 465.1 L489.2 538.9 A13.9 1.6 0 0 1 461.4 538.9 Z" fill="url(#l23)"/><ellipse cx="475.3" cy="465.1" rx="13.9" ry="1.2" fill="#6a1616"/></g>
<g><circle cx="352.3" cy="309.0" r="36.0" fill="url(#s24)"/><path d="M338.4 342.0 A13.9 1.3 0 0 0 366.2 342.0 L366.2 383.7 A13.9 1.2 0 0 1 338.4 383.7 Z" fill="url(#l24)"/><path d="M338.4 269.0 L366.2 269.0 L366.2 276.0 A13.9 1.6 0 0 1 338.4 276.0 Z" fill="url(#l24)"/><path d="M352.3 235.0 L380.3 269.6 A28.0 1.8 0 0 1 324.3 269.6 Z" fill="#4c1515"/><path d="M352.3 235.0 L379.4 270.0 A27.2 1.4 0 0 1 325.1 270.0 Z" fill="#711515"/><path d="M352.3 235.0 L378.3 270.3 A26.0 1.1 0 0 1 326.2 270.3 Z" fill="#841515"/><path d="M352.3 235.0 L376.6 270.5 A24.4 0.9 0 0 1 327.9 270.5 Z" fill="#971515"/><path d="M352.3 235.0 L374.7 270.7 A22.4 0.7 0 0 1 329.9 270.7 Z" fill="#a81515"/><path d="M352.3 235.0 L371.9 270.9 A19.6 0.5 0 0 1 332.7 270.9 Z" fill="#ba1515"/><path d="M352.3 235.0 L368.5 271.1 A16.2 0.3 0 0 1 336.0 271.1 Z" fill="#c91515"/><path d="M352.3 235.0 L364.6 271.2 A12.3 0.2 0 0 1 340.0 271.2 Z" fill="#d61515"/><path d="M352.3 235.0 L360.7 271.3 A8.4 0.1 0 0 1 343.9 271.3 Z" fill="#df1515"/><path d="M352.3 235.0 L356.5 271.4 A4.2 0.0 0 0 1 348.1 271.4 Z" fill="#e41515"/></g>
<g><circle cx="720.5" cy="746.1" r="34.8" fill="url(#s25)"/><path d="M720.5 851.7 L692.5 816.4 A28.0 2.2 0 0 0 748.5 816.4 Z" fill="#4b1414"/><path d="M720.5 851.7 L693.3 817.0 A27.2 1.7 0 0 0 747.6 817.0 Z" fill="#6c1414"/><path d="M720.5 851.7 L694.4 817.2 A26.0 1.4 0 0 0 746.5 817.2 Z" fill="#7d1414"/><path d="M720.5 851.7 L696.1 817.5 A24.4 1.1 0 0 0 744.8 817.5 Z" fill="#8e1414"/><path d="M720.5 851.7 L698.1 817.7 A22.4 0.9 0 0 0 742.9 817.7 Z" fill="#9c1414"/><path d="M720.5 851.7 L700.9 818.0 A19.6 0.6 0 0 0 740.1 818.0 Z" fill="#ac1414"/><path d="M720.5 851.7 L704.2 818.2 A16.2 0.4 0 0 0 736.7 818.2 Z" fill="#ba1414"/><path d="M720.5 851.7 L708.1 818.4 A12.3 0.2 0 0 0 732.8 818.4 Z" fill="#c51414"/><path d="M720.5 851.7 L712.1 818.5 A8.4 0.1 0 0 0 728.9 818.5 Z" fill="#cc1414"/><path d="M720.5 851.7 L716.3 818.6 A4.2 0.0 0 0 0 724.7 818.6 Z" fill="#d21414"/><ellipse cx="720.5" cy="816.4" rx="28.0" ry="2.2" fill="#751414"/><path d="M706.6 777.8 A13.9 1.3 0 0 0 734.4 777.8 L734.4 816.6 A13.9 1.2 0 0 1 706.6 816.6 Z" fill="url(#l25)"/><path d="M706.6 640.6 L734.4 640.6 L734.4 714.4 A13.9 1.6 0 0 1 706.6 714.4 Z" fill="url(#l25)"/><ellipse cx="720.5" cy="640.6" rx="13.9" ry="1.2" fill="#691414"/></g>
<g><circle cx="597.0" cy="310.6" r="36.0" fill="url(#s26)"/><path d="M583.1 343.6 A13.9 1.3 0 0 0 610.9 343.6 L610.9 385.3 A13.9 1.2 0 0 1 583.1 385.3 Z" fill="url(#l26)"/><path d="M583.1 270.6 L610.9 270.6 L610.9 277.6 A13.9 1.6 0 0 1 583.1 277.6 Z" fill="url(#l26)"/><path d="M597.0 236.6 L625.0 271.2 A28.0 1.8 0 0 1 569.0 271.2 Z" fill="#4a1212"/><path d="M597.0 236.6 L624.2 271.7 A27.2 1.4 0 0 1 569.9 271.7 Z" fill="#6f1212"/><path d="M597.0 236.6 L623.1 271.9 A26.0 1.1 0 0 1 571.0 271.9 Z" fill="#831212"/><path d="M597.0 236.6 L621.4 272.1 A24.4 0.9 0 0 1 572.7 272.1 Z" fill="#961212"/><path d="M597.0 236.6 L619.4 272.3 A22.4 0.7 0 0 1 574.6 272.3 Z" fill="#a71212"/><path d="M597.0 236.6 L616.6 272.5 A19.6 0.5 0 0 1 577.4 272.5 Z" fill="#b91212"/><path d="M597.0 236.6 L613.3 272.7 A16.2 0.3 0 0 1 580.8 272.7 Z" fill="#c81212"/><path d="M597.0 236.6 L609.3 272.8 A12.3 0.2 0 0 1 584.7 272.8 Z" fill="#d51212"/><path d="M597.0 236.6 L605.4 272.9 A8.4 0.1 0 0 1 588.6 272.9 Z" fill="#df1212"/><path d="M597.0 236.6 L601.2 273.0 A4.2 0.0 0 0 1 592.8 273.0 Z" fill="#e41212"/></g>
<g><circle cx="964.8" cy="573.9" r="34.8" fill="url(#s27)"/><path d="M964.8 679.5 L936.8 644.2 A28.0 2.2 0 0 0 992.8 644.2 Z" fill="#481010"/><path d="M964.8 679.5 L937.6 644.7 A27.2 1.7 0 0 0 991.9 644.7 Z" fill="#691010"/><path d="M964.8 679.5 L938.7 645.0 A26.0 1.4 0 0 0 990.8 645.0 Z" fill="#7b1010"/><path d="M964.8 679.5 L940.4 645.3 A24.4 1.1 0 0 0 989.1 645.3 Z" fill="#8c1010"/><path d="M964.8 679.5 L942.4 645.5 A22.4 0.9 0 0 0 987.2 645.5 Z" fill="#9b1010"/><path d="M964.8 679.5 L945.2 645.7 A19.6 0.6 0 0 0 984.4 645.7 Z" fill="#ab1010"/><path d="M964.8 679.5 L948.5 646.0 A16.2 0.4 0 0 0 981.0 646.0 Z" fill="#b91010"/><path d="M964.8 679.5 L952.5 646.2 A12.3 0.2 0 0 0 977.1 646.2 Z" fill="#c41010"/><path d="M964.8 679.5 L956.4 646.3 A8.4 0.1 0 0 0 973.2 646.3 Z" fill="#cb1010"/><path d="M964.8 679.5 L960.6 646.4 A4.2 0.0 0 0 0 969.0 646.4 Z" fill="#d11010"/><ellipse cx="964.8" cy="644.2" rx="28.0" ry="2.2" fill="#721010"/><path d="M950.9 605.6 A13.9 1.3 0 0 0 978.7 605.6 L978.7 644.4 A13.9 1.2 0 0 1 950.9 644.4 Z" fill="url(#l27)"/><path d="M950.9 468.4 L978.7 468.4 L978.7 542.2 A13.9 1.6 0 0 1 950.9 542.2 Z" fill="url(#l27)"/><ellipse cx="964.8" cy="468.4" rx="13.9" ry="1.2" fill="#661010"/></g>
<g><circle cx="841.8" cy="312.2" r="36.0" fill="url(#s28)"/><path d="M827.9 345.2 A13.9 1.3 0 0 0 855.7 345.2 L855.7 386.9 A13.9 1.2 0 0 1 827.9 386.9 Z" fill="url(#l28)"/><path d="M827.9 272.2 L855.7 272.2 L855.7 279.2 A13.9 1.6 0 0 1 827.9 279.2 Z" fill="url(#l28)"/><path d="M841.8 238.2 L869.8 272.9 A28.0 1.8 0 0 1 813.8 272.9 Z" fill="#481010"/><path d="M841.8 238.2 L868.9 273.3 A27.2 1.4 0 0 1 814.6 273.3 Z" fill="#6d1010"/><path d="M841.8 238.2 L867.8 273.5 A26.0 1.1 0 0 1 815.7 273.5 Z" fill="#811010"/><path d="M841.8 238.2 L866.1 273.7 A24.4 0.9 0 0 1 817.4 273.7 Z" fill="#951010"/><path d="M841.8 238.2 L864.2 273.9 A22.4 0.7 0 0 1 819.4 273.9 Z" fill="#a61010"/><path d="M841.8 238.2 L861.4 274.1 A19.6 0.5 0 0 1 822.2 274.1 Z" fill="#b91010"/><path d="M841.8 238.2 L858.0 274.3 A16.2 0.3 0 0 1 825.5 274.3 Z" fill="#c81010"/><path d="M841.8 238.2 L854.1 274.5 A12.3 0.2 0 0 1 829.5 274.5 Z" fill="#d51010"/><path d="M841.8 238.2 L850.2 274.6 A8.4 0.1 0 0 1 833.4 274.6 Z" fill="#de1010"/><path d="M841.8 238.2 L846.0 274.6 A4.2 0.0 0 0 1 837.6 274.6 Z" fill="#e41010"/></g>
<g><circle cx="1086.5" cy="313.9" r="36.0" fill="url(#s29)"/><path d="M1072.6 346.9 A13.9 1.3 0 0 0 1100.4 346.9 L1100.4 388.6 A13.9 1.2 0 0 1 1072.6 388.6 Z" fill="url(#l29)"/><path d="M1072.6 273.9 L1100.4 273.9 L1100.4 280.9 A13.9 1.6 0 0 1 1072.6 280.9 Z" fill="url(#l29)"/><path d="M1086.5 239.9 L1114.5 274.5 A28.0 1.8 0 0 1 1058.5 274.5 Z" fill="#460d0d"/><path d="M1086.5 239.9 L1113.7 274.9 A27.2 1.4 0 0 1 1059.4 274.9 Z" fill="#6c0d0d"/><path d="M1086.5 239.9 L1112.6 275.1 A26.0 1.1 0 0 1 1060.5 275.1 Z" fill="#800d0d"/><path d="M1086.5 239.9 L1110.9 275.4 A24.4 0.9 0 0 1 1062.2 275.4 Z" fill="#940d0d"/><path d="M1086.5 239.9 L1108.9 275.6 A22.4 0.7 0 0 1 1064.1 275.6 Z" fill="#a50d0d"/><path d="M1086.5 239.9 L1106.1 275.8 A19.6 0.5 0 0 1 1066.9 275.8 Z" fill="#b80d0d"/><path d="M1086.5 239.9 L1102.8 275.9 A16.2 0.3 0 0 1 1070.3 275.9 Z" fill="#c70d0d"/><path d="M1086.5 239.9 L1098.8 276.1 A12.3 0.2 0 0 1 1074.2 276.1 Z" fill="#d40d0d"/><path d="M1086.5 239.9 L1094.9 276.2 A8.4 0.1 0 0 1 1078.1 276.2 Z" fill="#de0d0d"/><path d="M1086.5 239.9 L1090.7 276.3 A4.2 0.0 0 0 1 1082.3 276.3 Z" fill="#e30d0d"/></g>
<g><circle cx="461.0" cy="840.9" r="36.0" fill="url(#s30)"/><path d="M447.1 873.9 A13.9 1.3 0 0 0 474.9 873.9 L474.9 915.6 A13.9 1.2 0 0 1 447.1 915.6 Z" fill="url(#l30)"/><path d="M447.1 800.9 L474.9 800.9 L474.9 807.9 A13.9 1.6 0 0 1 447.1 807.9 Z" fill="url(#l30)"/><path d="M461.0 766.9 L489.0 801.5 A28.0 1.8 0 0 1 433.0 801.5 Z" fill="#450c0c"/><path d="M461.0 766.9 L488.2 801.9 A27.2 1.4 0 0 1 433.8 801.9 Z" fill="#6b0c0c"/><path d="M461.0 766.9 L487.0 802.1 A26.0 1.1 0 0 1 435.0 802.1 Z" fill="#7f0c0c"/><path d="M461.0 766.9 L485.4 802.3 A24.4 0.9 0 0 1 436.6 802.3 Z" fill="#930c0c"/><path d="M461.0 766.9 L483.4 802.5 A22.4 0.7 0 0 1 438.6 802.5 Z" fill="#a50c0c"/><path d="M461.0 766.9 L480.6 802.7 A19.6 0.5 0 0 1 441.4 802.7 Z" fill="#b80c0c"/><path d="M461.0 766.9 L477.2 802.9 A16.2 0.3 0 0 1 444.8 802.9 Z" fill="#c70c0c"/><path d="M461.0 766.9 L473.3 803.1 A12.3 0.2 0 0 1 448.7 803.1 Z" fill="#d40c0c"/><path d="M461.0 766.9 L469.4 803.2 A8.4 0.1 0 0 1 452.6 803.2 Z" fill="#de0c0c"/><path d="M461.0 766.9 L465.2 803.2 A4.2 0.0 0 0 1 456.8 803.2 Z" fill="#e30c0c"/></g>
<g><circle cx="459.3" cy="145.4" r="36.0" fill="url(#s31)"/><path d="M445.4 178.4 A13.9 1.3 0 0 0 473.2 178.4 L473.2 220.1 A13.9 1.2 0 0 1 445.4 220.1 Z" fill="url(#l31)"/><path d="M445.4 105.4 L473.2 105.4 L473.2 112.4 A13.9 1.6 0 0 1 445.4 112.4 Z" fill="url(#l31)"/><path d="M459.3 71.4 L487.3 106.0 A28.0 1.8 0 0 1 431.3 106.0 Z" fill="#420707"/><path d="M459.3 71.4 L486.5 106.4 A27.2 1.4 0 0 1 432.1 106.4 Z" fill="#680707"/><path d="M459.3 71.4 L485.3 106.6 A26.0 1.1 0 0 1 433.3 106.6 Z" fill="#7d0707"/><path d="M459.3 71.4 L483.7 106.8 A24.4 0.9 0 0 1 434.9 106.8 Z" fill="#910707"/><path d="M459.3 71.4 L481.7 107.0 A22.4 0.7 0 0 1 436.9 107.0 Z" fill="#a30707"/><path d="M459.3 71.4 L478.9 107.2 A19.6 0.5 0 0 1 439.7 107.2 Z" fill="#b60707"/><path d="M459.3 71.4 L475.5 107.4 A16.2 0.3 0 0 1 443.1 107.4 Z" fill="#c60707"/><path d="M459.3 71.4 L471.6 107.6 A12.3 0.2 0 0 1 447.0 107.6 Z" fill="#d30707"/><path d="M459.3 71.4 L467.7 107.7 A8.4 0.1 0 0 1 450.9 107.7 Z" fill="#dd0707"/><path d="M459.3 71.4 L463.5 107.7 A4.2 0.0 0 0 1 455.1 107.7 Z" fill="#e30707"/></g>
<g><circle cx="704.9" cy="494.7" r="36.0" fill="url(#s32)"/><path d="M691.0 527.7 A13.9 1.3 0 0 0 718.8 527.7 L718.8 569.4 A13.9 1.2 0 0 1 691.0 569.4 Z" fill="url(#l32)"/><path d="M691.0 454.7 L718.8 454.7 L718.8 461.7 A13.9 1.6 0 0 1 691.0 461.7 Z" fill="url(#l32)"/><path d="M704.9 420.7 L732.9 455.3 A28.0 1.8 0 0 1 676.9 455.3 Z" fill="#410707"/><path d="M704.9 420.7 L732.1 455.8 A27.2 1.4 0 0 1 677.7 455.8 Z" fill="#680707"/><path d="M704.9 420.7 L730.9 456.0 A26.0 1.1 0 0 1 678.9 456.0 Z" fill="#7d0707"/><path d="M704.9 420.7 L729.3 456.2 A24.4 0.9 0 0 1 680.5 456.2 Z" fill="#910707"/><path d="M704.9 420.7 L727.3 456.4 A22.4 0.7 0 0 1 682.5 456.4 Z" fill="#a30707"/><path d="M704.9 420.7 L724.5 456.6 A19.6 0.5 0 0 1 685.3 456.6 Z" fill="#b60707"/><path d="M704.9 420.7 L721.1 456.8 A16.2 0.3 0 0 1 688.7 456.8 Z" fill="#c60707"/><path d="M704.9 420.7 L717.2 456.9 A12.3 0.2 0 0 1 692.6 456.9 Z" fill="#d30707"/><path d="M704.9 420.7 L713.3 457.0 A8.4 0.1 0 0 1 696.5 457.0 Z" fill="#dd0707"/><path d="M704.9 420.7 L709.1 457.1 A4.2 0.0 0 0 1 700.7 457.1 Z" fill="#e30707"/></g>
<g><circle cx="950.5" cy="844.1" r="36.0" fill="url(#s33)"/><path d="M936.6 877.1 A13.9 1.3 0 0 0 964.4 877.1 L964.4 918.8 A13.9 1.2 0 0 1 936.6 918.8 Z" fill="url(#l33)"/><path d="M936.6 804.1 L964.4 804.1 L964.4 811.1 A13.9 1.6 0 0 1 936.6 811.1 Z" fill="url(#l33)"/><path d="M950.5 770.1 L978.5 804.7 A28.0 1.8 0 0 1 922.5 804.7 Z" fill="#410707"/><path d="M950.5 770.1 L977.7 805.1 A27.2 1.4 0 0 1 923.3 805.1 Z" fill="#680707"/><path d="M950.5 770.1 L976.5 805.4 A26.0 1.1 0 0 1 924.5 805.4 Z" fill="#7d0707"/><path d="M950.5 770.1 L974.9 805.6 A24.4 0.9 0 0 1 926.1 805.6 Z" fill="#910707"/><path d="M950.5 770.1 L972.9 805.8 A22.4 0.7 0 0 1 928.1 805.8 Z" fill="#a30707"/><path d="M950.5 770.1 L970.1 806.0 A19.6 0.5 0 0 1 930.9 806.0 Z" fill="#b60707"/><path d="M950.5 770.1 L966.7 806.2 A16.2 0.3 0 0 1 934.3 806.2 Z" fill="#c60707"/><path d="M950.5 770.1 L962.8 806.3 A12.3 0.2 0 0 1 938.2 806.3 Z" fill="#d30707"/><path d="M950.5 770.1 L958.9 806.4 A8.4 0.1 0 0 1 942.1 806.4 Z" fill="#dd0707"/><path d="M950.5 770.1 L954.7 806.5 A4.2 0.0 0 0 1 946.3 806.5 Z" fill="#e30707"/></g>
<g><circle cx="948.8" cy="148.6" r="36.0" fill="url(#s34)"/><path d="M934.9 181.6 A13.9 1.3 0 0 0 962.7 181.6 L962.7 223.3 A13.9 1.2 0 0 1 934.9 223.3 Z" fill="url(#l34)"/><path d="M934.9 108.6 L962.7 108.6 L962.7 115.6 A13.9 1.6 0 0 1 934.9 115.6 Z" fill="url(#l34)"/><path d="M948.8 74.6 L976.8 109.2 A28.0 1.8 0 0 1 920.8 109.2 Z" fill="#3d0202"/><path d="M948.8 74.6 L976.0 109.6 A27.2 1.4 0 0 1 921.6 109.6 Z" fill="#650202"/><path d="M948.8 74.6 L974.8 109.9 A26.0 1.1 0 0 1 922.8 109.9 Z" fill="#7a0202"/><path d="M948.8 74.6 L973.2 110.1 A24.4 0.9 0 0 1 924.4 110.1 Z" fill="#8f0202"/><path d="M948.8 74.6 L971.2 110.3 A22.4 0.7 0 0 1 926.4 110.3 Z" fill="#a10202"/><path d="M948.8 74.6 L968.4 110.5 A19.6 0.5 0 0 1 929.2 110.5 Z" fill="#b50202"/><path d="M948.8 74.6 L965.0 110.7 A16.2 0.3 0 0 1 932.6 110.7 Z" fill="#c40202"/><path d="M948.8 74.6 L961.1 110.8 A12.3 0.2 0 0 1 936.5 110.8 Z" fill="#d20202"/><path d="M948.8 74.6 L957.2 110.9 A8.4 0.1 0 0 1 940.4 110.9 Z" fill="#dc0202"/><path d="M948.8 74.6 L953.0 111.0 A4.2 0.0 0 0 1 944.6 111.0 Z" fill="#e20202"/></g>
<g><circle cx="568.0" cy="677.2" r="36.0" fill="url(#s35)"/><path d="M554.1 710.2 A13.9 1.3 0 0 0 581.9 710.2 L581.9 751.9 A13.9 1.2 0 0 1 554.1 751.9 Z" fill="url(#l35)"/><path d="M554.1 637.2 L581.9 637.2 L581.9 644.2 A13.9 1.6 0 0 1 554.1 644.2 Z" fill="url(#l35)"/><path d="M568.0 603.2 L596.0 637.8 A28.0 1.8 0 0 1 540.0 637.8 Z" fill="#3c0000"/><path d="M568.0 603.2 L595.2 638.2 A27.2 1.4 0 0 1 540.9 638.2 Z" fill="#640000"/><path d="M568.0 603.2 L594.1 638.5 A26.0 1.1 0 0 1 542.0 638.5 Z" fill="#790000"/><path d="M568.0 603.2 L592.4 638.7 A24.4 0.9 0 0 1 543.7 638.7 Z" fill="#8e0000"/><path d="M568.0 603.2 L590.4 638.9 A22.4 0.7 0 0 1 545.6 638.9 Z" fill="#a00000"/><path d="M568.0 603.2 L587.6 639.1 A19.6 0.5 0 0 1 548.4 639.1 Z" fill="#b40000"/><path d="M568.0 603.2 L584.3 639.3 A16.2 0.3 0 0 1 551.8 639.3 Z" fill="#c40000"/><path d="M568.0 603.2 L580.3 639.4 A12.3 0.2 0 0 1 555.7 639.4 Z" fill="#d20000"/><path d="M568.0 603.2 L576.4 639.5 A8.4 0.1 0 0 1 559.6 639.5 Z" fill="#dc0000"/><path d="M568.0 603.2 L572.2 639.6 A4.2 0.0 0 0 1 563.8 639.6 Z" fill="#e20000"/></g>
<g><circle cx="812.8" cy="678.8" r="36.0" fill="url(#s36)"/><path d="M798.9 711.8 A13.9 1.3 0 0 0 826.7 711.8 L826.7 753.5 A13.9 1.2 0 0 1 798.9 753.5 Z" fill="url(#l36)"/><path d="M798.9 638.8 L826.7 638.8 L826.7 645.8 A13.9 1.6 0 0 1 798.9 645.8 Z" fill="url(#l36)"/><path d="M812.8 604.8 L840.8 639.4 A28.0 1.8 0 0 1 784.8 639.4 Z" fill="#3c0000"/><path d="M812.8 604.8 L839.9 639.9 A27.2 1.4 0 0 1 785.6 639.9 Z" fill="#640000"/><path d="M812.8 604.8 L838.8 640.1 A26.0 1.1 0 0 1 786.7 640.1 Z" fill="#790000"/><path d="M812.8 604.8 L837.1 640.3 A24.4 0.9 0 0 1 788.4 640.3 Z" fill="#8e0000"/><path d="M812.8 604.8 L835.2 640.5 A22.4 0.7 0 0 1 790.4 640.5 Z" fill="#a00000"/><path d="M812.8 604.8 L832.4 640.7 A19.6 0.5 0 0 1 793.2 640.7 Z" fill="#b40000"/><path d="M812.8 604.8 L829.0 640.9 A16.2 0.3 0 0 1 796.5 640.9 Z" fill="#c40000"/><path d="M812.8 604.8 L825.1 641.0 A12.3 0.2 0 0 1 800.5 641.0 Z" fill="#d20000"/><path d="M812.8 604.8 L821.2 641.1 A8.4 0.1 0 0 1 804.4 641.1 Z" fill="#dc0000"/><path d="M812.8 604.8 L817.0 641.2 A4.2 0.0 0 0 1 808.6 641.2 Z" fill="#e20000"/></g>
<g><circle cx="689.3" cy="243.3" r="34.8" fill="url(#s37)"/><path d="M689.3 348.9 L661.3 313.6 A28.0 2.2 0 0 0 717.3 313.6 Z" fill="#3c0000"/><path d="M689.3 348.9 L662.2 314.2 A27.2 1.7 0 0 0 716.5 314.2 Z" fill="#5f0000"/><path d="M689.3 348.9 L663.3 314.4 A26.0 1.4 0 0 0 715.4 314.4 Z" fill="#720000"/><path d="M689.3 348.9 L665.0 314.7 A24.4 1.1 0 0 0 713.7 314.7 Z" fill="#840000"/><path d="M689.3 348.9 L666.9 314.9 A22.4 0.9 0 0 0 711.7 314.9 Z" fill="#940000"/><path d="M689.3 348.9 L669.7 315.2 A19.6 0.6 0 0 0 708.9 315.2 Z" fill="#a50000"/><path d="M689.3 348.9 L673.1 315.4 A16.2 0.4 0 0 0 705.6 315.4 Z" fill="#b40000"/><path d="M689.3 348.9 L677.0 315.6 A12.3 0.2 0 0 0 701.7 315.6 Z" fill="#c00000"/><path d="M689.3 348.9 L680.9 315.7 A8.4 0.1 0 0 0 697.7 315.7 Z" fill="#c80000"/><path d="M689.3 348.9 L685.1 315.8 A4.2 0.0 0 0 0 693.5 315.8 Z" fill="#ce0000"/><ellipse cx="689.3" cy="313.6" rx="28.0" ry="2.2" fill="#690000"/><path d="M675.4 275.0 A13.9 1.3 0 0 0 703.2 275.0 L703.2 313.8 A13.9 1.2 0 0 1 675.4 313.8 Z" fill="url(#l37)"/><path d="M675.4 137.8 L703.2 137.8 L703.2 211.6 A13.9 1.6 0 0 1 675.4 211.6 Z" fill="url(#l37)"/><ellipse cx="689.3" cy="137.8" rx="13.9" ry="1.2" fill="#5c0000"/></g>
<g><circle cx="675.0" cy="513.5" r="36.0" fill="url(#s38)"/><path d="M661.1 546.5 A13.9 1.3 0 0 0 688.9 546.5 L688.9 588.2 A13.9 1.2 0 0 1 661.1 588.2 Z" fill="url(#l38)"/><path d="M661.1 473.5 L688.9 473.5 L688.9 480.5 A13.9 1.6 0 0 1 661.1 480.5 Z" fill="url(#l38)"/><path d="M675.0 439.5 L703.0 474.1 A28.0 1.8 0 0 1 647.0 474.1 Z" fill="#3c0000"/><path d="M675.0 439.5 L702.2 474.6 A27.2 1.4 0 0 1 647.9 474.6 Z" fill="#640000"/><path d="M675.0 439.5 L701.1 474.8 A26.0 1.1 0 0 1 649.0 474.8 Z" fill="#790000"/><path d="M675.0 439.5 L699.4 475.0 A24.4 0.9 0 0 1 650.7 475.0 Z" fill="#8e0000"/><path d="M675.0 439.5 L697.4 475.2 A22.4 0.7 0 0 1 652.6 475.2 Z" fill="#a00000"/><path d="M675.0 439.5 L694.6 475.4 A19.6 0.5 0 0 1 655.4 475.4 Z" fill="#b40000"/><path d="M675.0 439.5 L691.3 475.6 A16.2 0.3 0 0 1 658.8 475.6 Z" fill="#c40000"/><path d="M675.0 439.5 L687.4 475.8 A12.3 0.2 0 0 1 662.7 475.8 Z" fill="#d20000"/><path d="M675.0 439.5 L683.4 475.9 A8.4 0.1 0 0 1 666.6 475.9 Z" fill="#dc0000"/><path d="M675.0 439.5 L679.2 475.9 A4.2 0.0 0 0 1 670.8 475.9 Z" fill="#e20000"/></g>
<g stroke-width="2.25" stroke-linecap="butt" fill="none"><line x1="795.3" y1="778.5" x2="795.2" y2="740.0" stroke="#454545"/><line x1="795.0" y1="647.5" x2="794.9" y2="639.5" stroke="#444444"/><line x1="794.9" y1="626.5" x2="794.6" y2="513.5" stroke="#444444"/><line x1="794.3" y1="364.0" x2="794.1" y2="294.9" stroke="#424242"/><line x1="794.1" y1="296.3" x2="793.9" y2="226.6" stroke="#424242"/><line x1="793.9" y1="227.9" x2="793.8" y2="158.2" stroke="#424242"/><line x1="793.8" y1="159.6" x2="793.6" y2="90.5" stroke="#414141"/><line x1="802.3" y1="786.7" x2="865.5" y2="792.7" stroke="#424242"/><line x1="864.1" y1="792.5" x2="927.3" y2="798.6" stroke="#3c3c3c"/><line x1="1032.9" y1="808.6" x2="1097.6" y2="814.8" stroke="#2e2e2e"/><line x1="1096.2" y1="814.6" x2="1161.7" y2="820.9" stroke="#282828"/><line x1="1160.3" y1="820.7" x2="1225.1" y2="826.9" stroke="#232323"/><line x1="759.4" y1="788.3" x2="734.4" y2="789.8" stroke="#424242"/><line x1="706.4" y1="791.6" x2="630.8" y2="796.3" stroke="#3e3e3e"/><line x1="632.2" y1="796.2" x2="556.6" y2="800.9" stroke="#3a3a3a"/><line x1="446.3" y1="807.9" x2="378.9" y2="812.1" stroke="#313131"/><line x1="380.3" y1="812.0" x2="312.1" y2="816.3" stroke="#2d2d2d"/><line x1="313.5" y1="816.2" x2="246.1" y2="820.4" stroke="#2a2a2a"/><line x1="1225.1" y1="826.9" x2="1224.9" y2="758.1" stroke="#202020"/><line x1="1224.9" y1="759.5" x2="1224.8" y2="690.0" stroke="#202020"/><line x1="1224.8" y1="691.3" x2="1224.6" y2="621.8" stroke="#1f1f1f"/><line x1="1224.6" y1="623.2" x2="1224.4" y2="554.4" stroke="#1f1f1f"/><line x1="1224.1" y1="404.9" x2="1223.9" y2="335.8" stroke="#1e1e1e"/><line x1="1223.9" y1="337.2" x2="1223.7" y2="267.5" stroke="#1e1e1e"/><line x1="1223.7" y1="268.8" x2="1223.6" y2="199.1" stroke="#1d1d1d"/><line x1="1223.6" y1="200.5" x2="1223.4" y2="131.4" stroke="#1d1d1d"/><line x1="793.6" y1="90.5" x2="860.3" y2="96.8" stroke="#3e3e3e"/><line x1="858.9" y1="96.7" x2="925.6" y2="103.1" stroke="#393939"/><line x1="1031.2" y1="113.1" x2="1095.9" y2="119.3" stroke="#2a2a2a"/><line x1="1094.5" y1="119.1" x2="1160.0" y2="125.4" stroke="#252525"/><line x1="1158.6" y1="125.2" x2="1223.4" y2="131.4" stroke="#1f1f1f"/><line x1="793.6" y1="90.5" x2="713.4" y2="95.5" stroke="#3f3f3f"/><line x1="714.7" y1="95.4" x2="633.8" y2="100.5" stroke="#3b3b3b"/><line x1="635.2" y1="100.4" x2="554.9" y2="105.4" stroke="#373737"/><line x1="444.6" y1="112.4" x2="377.2" y2="116.6" stroke="#2d2d2d"/><line x1="378.6" y1="116.5" x2="310.4" y2="120.8" stroke="#2a2a2a"/><line x1="311.8" y1="120.7" x2="244.4" y2="124.9" stroke="#262626"/><line x1="246.1" y1="820.4" x2="245.9" y2="751.6" stroke="#282828"/><line x1="245.9" y1="753.0" x2="245.8" y2="683.5" stroke="#282828"/><line x1="245.8" y1="684.8" x2="245.6" y2="615.3" stroke="#272727"/><line x1="245.6" y1="616.7" x2="245.4" y2="547.9" stroke="#272727"/><line x1="245.1" y1="398.4" x2="244.9" y2="329.3" stroke="#262626"/><line x1="244.9" y1="330.7" x2="244.7" y2="261.0" stroke="#252525"/><line x1="244.7" y1="262.3" x2="244.6" y2="192.6" stroke="#252525"/><line x1="244.6" y1="194.0" x2="244.4" y2="124.9" stroke="#252525"/><line x1="246.1" y1="820.4" x2="336.2" y2="829.0" stroke="#242424"/><line x1="334.8" y1="828.8" x2="424.9" y2="837.4" stroke="#1d1d1d"/><line x1="483.7" y1="843.0" x2="548.4" y2="849.2" stroke="#111111"/><line x1="547.0" y1="849.0" x2="612.5" y2="855.3" stroke="#0c0c0c"/><line x1="611.1" y1="855.1" x2="675.9" y2="861.3" stroke="#060606"/><line x1="1225.1" y1="826.9" x2="1144.9" y2="831.9" stroke="#1e1e1e"/><line x1="1146.2" y1="831.8" x2="1065.3" y2="836.9" stroke="#1a1a1a"/><line x1="1066.7" y1="836.8" x2="986.4" y2="841.8" stroke="#161616"/><line x1="922.0" y1="845.9" x2="859.8" y2="849.8" stroke="#0f0f0f"/><line x1="861.2" y1="849.7" x2="798.3" y2="853.6" stroke="#0c0c0c"/><line x1="799.7" y1="853.5" x2="736.7" y2="857.5" stroke="#090909"/><line x1="738.1" y1="857.4" x2="675.9" y2="861.3" stroke="#050505"/><line x1="675.9" y1="861.3" x2="675.7" y2="792.5" stroke="#040404"/><line x1="675.7" y1="793.9" x2="675.6" y2="724.4" stroke="#030303"/><line x1="675.6" y1="725.7" x2="675.4" y2="656.2" stroke="#030303"/><line x1="675.4" y1="657.6" x2="675.2" y2="588.8" stroke="#020202"/><line x1="674.9" y1="439.3" x2="674.7" y2="370.2" stroke="#010101"/><line x1="674.7" y1="371.6" x2="674.5" y2="301.9" stroke="#010101"/><line x1="674.5" y1="303.2" x2="674.4" y2="233.5" stroke="#010101"/><line x1="674.4" y1="234.9" x2="674.2" y2="165.8" stroke="#000000"/><line x1="244.4" y1="124.9" x2="334.5" y2="133.5" stroke="#212121"/><line x1="333.1" y1="133.3" x2="423.2" y2="141.9" stroke="#191919"/><line x1="482.0" y1="147.5" x2="546.7" y2="153.7" stroke="#0e0e0e"/><line x1="545.3" y1="153.5" x2="610.8" y2="159.8" stroke="#080808"/><line x1="609.4" y1="159.6" x2="674.2" y2="165.8" stroke="#030303"/><line x1="1223.4" y1="131.4" x2="1143.2" y2="136.4" stroke="#1b1b1b"/><line x1="1144.5" y1="136.3" x2="1063.6" y2="141.4" stroke="#161616"/><line x1="1065.0" y1="141.3" x2="984.7" y2="146.3" stroke="#121212"/><line x1="920.3" y1="150.4" x2="858.1" y2="154.3" stroke="#0b0b0b"/><line x1="859.5" y1="154.2" x2="796.6" y2="158.1" stroke="#080808"/><line x1="798.0" y1="158.0" x2="735.0" y2="162.0" stroke="#050505"/><line x1="736.4" y1="161.9" x2="674.2" y2="165.8" stroke="#020202"/></g>

<g>
<rect x="129.1" y="767" width="5.9" height="46" fill="url(#tb)"/>
<path d="M131.7 741.7 L141.3 767.5 A9.6 1 0 0 1 122.1 767.5 Z" fill="url(#tbc)"/>
<circle cx="132.2" cy="820.4" r="9.2" fill="url(#ts)"/>
<path d="M125.3 817.1 L92 818.6 L92 825.4 L125.3 823.9 A1.6 3.4 0 0 0 125.3 817.1 Z" fill="url(#tr)"/>
<path d="M70 823.6 L89.6 813.3 A5.9 9.4 -3 0 1 91 832 Z" fill="url(#trc)"/>
<path d="M138.8 817.7 L160 819.7 L160 826.1 L138.8 824.1 A1.8 3.2 0 0 1 138.8 817.7 Z" fill="url(#tg)"/>
<ellipse cx="165" cy="822.8" rx="7.6" ry="10" transform="rotate(5 165 822.8)" fill="url(#tgc)"/>
<path d="M180.9 824.3 L167.5 813.1 L166.3 832.7 Z" fill="url(#tgc)"/>
<text x="58.9" y="834" font-size="32" text-anchor="middle">a</text>
<text x="192.6" y="835" font-size="32" text-anchor="middle">b</text>
<text x="134" y="734" font-size="32" text-anchor="middle">c</text>
</g>
</svg>
</div>
</body></html>
